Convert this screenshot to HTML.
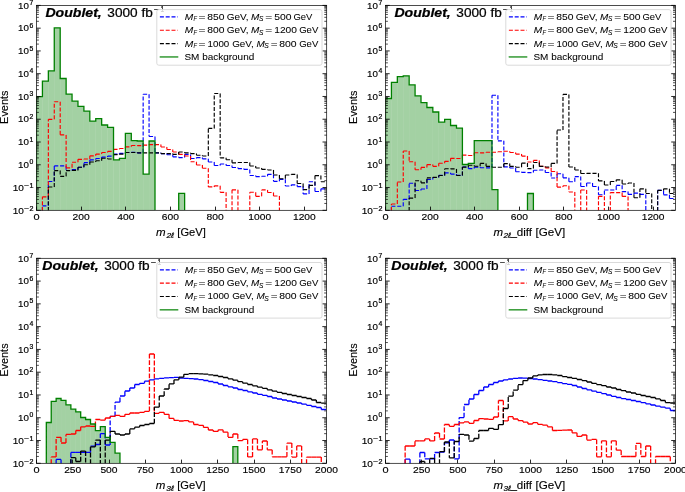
<!DOCTYPE html>
<html><head><meta charset="utf-8">
<style>
html,body{margin:0;padding:0;background:#fff;}
body{width:685px;height:492px;overflow:hidden;}
svg{display:block;}
text{font-family:"Liberation Sans",sans-serif;fill:#000;stroke:#000;stroke-width:0.22px;}
.tk{font-size:9.8px;stroke-width:0.15px;}
.sup{font-size:6.6px;}
.lb{font-size:10.4px;stroke-width:0.12px;}
.it{font-style:italic;}
.lsub2{font-size:7.6px;font-style:italic;}
.ti{font-size:12.1px;}
.bi{font-weight:bold;font-style:italic;}
.sup2{font-size:8.5px;}
.lg{font-size:9.8px;stroke-width:0.06px;}
.lsub{font-size:6.7px;font-style:italic;stroke-width:0.06px;}
svg{will-change:transform;}
</style></head>
<body>
<svg width="685" height="492" viewBox="0 0 685 492">
<rect width="685" height="492" fill="#fff"/>
<g>
<clipPath id="cTL"><rect x="36.5" y="5.4" width="290.2" height="204.9"/></clipPath>
<g clip-path="url(#cTL)">
<rect x="36.5" y="96.6" width="5.92" height="115.7" fill="#008000" fill-opacity="0.36"/>
<rect x="42.42" y="81.1" width="5.92" height="131.2" fill="#008000" fill-opacity="0.36"/>
<rect x="48.35" y="70.9" width="5.92" height="141.4" fill="#008000" fill-opacity="0.36"/>
<rect x="54.27" y="27.8" width="5.92" height="184.5" fill="#008000" fill-opacity="0.36"/>
<rect x="60.2" y="78.5" width="5.92" height="133.8" fill="#008000" fill-opacity="0.36"/>
<rect x="66.12" y="94.1" width="5.92" height="118.2" fill="#008000" fill-opacity="0.36"/>
<rect x="72.05" y="101.2" width="5.92" height="111.1" fill="#008000" fill-opacity="0.36"/>
<rect x="77.97" y="106.3" width="5.92" height="106" fill="#008000" fill-opacity="0.36"/>
<rect x="83.9" y="111.1" width="5.92" height="101.2" fill="#008000" fill-opacity="0.36"/>
<rect x="89.82" y="121.1" width="5.92" height="91.2" fill="#008000" fill-opacity="0.36"/>
<rect x="95.75" y="118.6" width="5.92" height="93.7" fill="#008000" fill-opacity="0.36"/>
<rect x="101.67" y="125" width="5.92" height="87.3" fill="#008000" fill-opacity="0.36"/>
<rect x="107.6" y="127.4" width="5.92" height="84.9" fill="#008000" fill-opacity="0.36"/>
<rect x="113.52" y="159.8" width="5.92" height="52.5" fill="#008000" fill-opacity="0.36"/>
<rect x="119.45" y="158.3" width="5.92" height="54" fill="#008000" fill-opacity="0.36"/>
<rect x="125.38" y="133.4" width="5.92" height="78.9" fill="#008000" fill-opacity="0.36"/>
<rect x="131.3" y="140.6" width="5.92" height="71.7" fill="#008000" fill-opacity="0.36"/>
<rect x="137.22" y="141" width="5.92" height="71.3" fill="#008000" fill-opacity="0.36"/>
<rect x="143.15" y="174.1" width="5.92" height="38.2" fill="#008000" fill-opacity="0.36"/>
<rect x="149.07" y="141" width="5.92" height="71.3" fill="#008000" fill-opacity="0.36"/>
<rect x="178.7" y="193.4" width="5.92" height="18.9" fill="#008000" fill-opacity="0.36"/>
<path d="M42.42 211V205.8M42.42 205.8H48.35M48.35 205.8V181.5M48.35 181.5H54.27M54.27 181.5V165.8M54.27 165.8H60.2M60.2 165.8H66.12M66.12 165.8V170.5M66.12 170.5H72.05M72.05 170.5V169.6M72.05 169.6H77.97M77.97 169.6V167.2M77.97 167.2H83.9M83.9 167.2V162.6M83.9 162.6H89.82M89.82 162.6V159.8M89.82 159.8H95.75M95.75 159.8V158.5M95.75 158.5H101.67M101.67 158.5V157.1M101.67 157.1H107.6M107.6 157.1V156.1M107.6 156.1H113.52M113.52 156.1V154.1M113.52 154.1H119.45M119.45 154.1V153.3M119.45 153.3H125.38M125.38 153.3V152.5M125.38 152.5H131.3M131.3 152.5V152.2M131.3 152.2H137.22M137.22 152.2V152.8M137.22 152.8H143.15M143.15 152.8V94.2M143.15 94.2H149.07M149.07 94.2V136.5M149.07 136.5H155M155 136.5V152.8M155 152.8H160.93M160.93 152.8V153.6M160.93 153.6H166.85M166.85 153.6V154.7M166.85 154.7H172.78M172.78 154.7V156.8M172.78 156.8H178.7M178.7 156.8V157.6M178.7 157.6H184.62M184.62 157.6V154.4M184.62 154.4H190.55M190.55 154.4V158.5M190.55 158.5H196.47M196.47 158.5V157.6M196.47 157.6H202.4M202.4 157.6V158.8M202.4 158.8H208.32M208.32 158.8V162M208.32 162H214.25M214.25 162V165.5M214.25 165.5H220.17M220.17 165.5V164M220.17 164H226.1M226.1 164V165.5M226.1 165.5H232.03M232.03 165.5V167.5M232.03 167.5H237.95M237.95 167.5V168.6M237.95 168.6H243.88M243.88 168.6V169.4M243.88 169.4H249.8M249.8 169.4V175.5M249.8 175.5H255.72M255.72 175.5V176.6M255.72 176.6H261.65M261.65 176.6V176.2M261.65 176.2H267.57M267.57 176.2V174.3M267.57 174.3H273.5M273.5 174.3V181.3M273.5 181.3H279.42M279.42 181.3V179.3M279.42 179.3H285.35M285.35 179.3V186M285.35 186H291.27M291.27 186V184.8M291.27 184.8H297.2M297.2 184.8V186.6M297.2 186.6H303.12M303.12 186.6V193.9M303.12 193.9H309.05M309.05 193.9V181.7M309.05 181.7H314.97M314.97 181.7V191.5M314.97 191.5H320.9M320.9 191.5V188.8M320.9 188.8H326.82" fill="none" stroke="#0000ff" stroke-width="1.15" stroke-dasharray="4 1.8" stroke-linecap="butt"/>
<path d="M42.42 211V196.8M42.42 196.8H48.35M48.35 196.8V119.3M48.35 119.3H54.27M54.27 119.3V101.7M54.27 101.7H60.2M60.2 101.7V134.9M60.2 134.9H66.12M66.12 134.9V167.8M66.12 167.8H72.05M72.05 167.8V162.2M72.05 162.2H77.97M77.97 162.2V159.3M77.97 159.3H83.9M83.9 159.3V159M83.9 159H89.82M89.82 159V155.8M89.82 155.8H95.75M95.75 155.8V154.1M95.75 154.1H101.67M101.67 154.1V152.5M101.67 152.5H107.6M107.6 152.5V151.4M107.6 151.4H113.52M113.52 151.4V149.3M113.52 149.3H119.45M119.45 149.3V148.5M119.45 148.5H125.38M125.38 148.5V146.8M125.38 146.8H131.3M131.3 146.8V145.5M131.3 145.5H137.22M137.22 145.5V145.6M137.22 145.6H143.15M143.15 145.6V145.1M143.15 145.1H149.07M149.07 145.1V144.6M149.07 144.6H155M155 144.6H160.93M160.93 144.6V147M160.93 147H166.85M166.85 147V149.5M166.85 149.5H172.78M172.78 149.5V152M172.78 152H178.7M178.7 152V154.4M178.7 154.4H184.62M184.62 154.4V156M184.62 156H190.55M190.55 156V161.7M190.55 161.7H196.47M196.47 161.7V165M196.47 165H202.4M202.4 165V168.2M202.4 168.2H208.32M208.32 168.2V186.9M208.32 186.9H214.25M214.25 186.9V185.8M214.25 185.8H220.17M220.17 185.8V192.3M220.17 192.3H226.1M226.1 192.3V216.3M232.03 211V189.8M232.03 189.8H237.95M237.95 189.8V216.3M249.8 211V192.2M249.8 192.2H255.72M255.72 192.2V196.3M255.72 196.3H261.65M261.65 196.3V189.9M261.65 189.9H267.57M267.57 189.9V192.5M267.57 192.5H273.5M273.5 192.5V196M273.5 196H279.42M279.42 196V216.3" fill="none" stroke="#ff0000" stroke-width="1.15" stroke-dasharray="4 1.8" stroke-linecap="butt"/>
<path d="M48.35 211V187M48.35 187H54.27M54.27 187V170.6M54.27 170.6H60.2M60.2 170.6V176.3M60.2 176.3H66.12M66.12 176.3V170.6M66.12 170.6H72.05M72.05 170.6V170.4M72.05 170.4H77.97M77.97 170.4V167.2M77.97 167.2H83.9M83.9 167.2V164.7M83.9 164.7H89.82M89.82 164.7V162M89.82 162H95.75M95.75 162V160.7M95.75 160.7H101.67M101.67 160.7V158.2M101.67 158.2H107.6M107.6 158.2V159M107.6 159H113.52M113.52 159V154.6M113.52 154.6H119.45M119.45 154.6V154.1M119.45 154.1H125.38M125.38 154.1V152.5M125.38 152.5H131.3M131.3 152.5H137.22M137.22 152.5V152.8M137.22 152.8H143.15M143.15 152.8H149.07M149.07 152.8H155M155 152.8H160.93M160.93 152.8V153.6M160.93 153.6H166.85M166.85 153.6H172.78M172.78 153.6V154.4M172.78 154.4H178.7M178.7 154.4V152M178.7 152H184.62M184.62 152V152.8M184.62 152.8H190.55M190.55 152.8V153.6M190.55 153.6H196.47M196.47 153.6V155.2M196.47 155.2H202.4M202.4 155.2V156M202.4 156H208.32M208.32 156V128.4M208.32 128.4H214.25M214.25 128.4V93.5M214.25 93.5H220.17M220.17 93.5V157.8M220.17 157.8H226.1M226.1 157.8V159.7M226.1 159.7H232.03M232.03 159.7V162.8M232.03 162.8H237.95M237.95 162.8V162.5M237.95 162.5H243.88M243.88 162.5H249.8M249.8 162.5V166M249.8 166H255.72M255.72 166V168M255.72 168H261.65M261.65 168V169.4M261.65 169.4H267.57M267.57 169.4V170M267.57 170H273.5M273.5 170V175M273.5 175H279.42M279.42 175V178.7M279.42 178.7H285.35M285.35 178.7V175M285.35 175H291.27M291.27 175V174.4M291.27 174.4H297.2M297.2 174.4V183.5M297.2 183.5H303.12M303.12 183.5V189.6M303.12 189.6H309.05M309.05 189.6V185.4M309.05 185.4H314.97M314.97 185.4V175.6M314.97 175.6H320.9M320.9 175.6V181.7M320.9 181.7H326.82" fill="none" stroke="#000000" stroke-width="1.15" stroke-dasharray="4 1.8" stroke-linecap="butt"/>
<path d="M36.5 210.3L36.5 96.6L42.42 96.6L42.42 81.1L48.35 81.1L48.35 70.9L54.27 70.9L54.27 27.8L60.2 27.8L60.2 78.5L66.12 78.5L66.12 94.1L72.05 94.1L72.05 101.2L77.97 101.2L77.97 106.3L83.9 106.3L83.9 111.1L89.82 111.1L89.82 121.1L95.75 121.1L95.75 118.6L101.67 118.6L101.67 125L107.6 125L107.6 127.4L113.52 127.4L113.52 159.8L119.45 159.8L119.45 158.3L125.38 158.3L125.38 133.4L131.3 133.4L131.3 140.6L137.22 140.6L137.22 141L143.15 141L143.15 174.1L149.07 174.1L149.07 141L155 141L155 210.3M178.7 210.3L178.7 193.4L184.62 193.4L184.62 210.3" fill="none" stroke="#008000" stroke-width="1.3" stroke-linejoin="miter"/>
</g>
<path d="M36.5 21.31h2.4M326.7 21.31h-2.4M36.5 17.3h2.4M326.7 17.3h-2.4M36.5 14.46h2.4M326.7 14.46h-2.4M36.5 12.25h2.4M326.7 12.25h-2.4M36.5 10.45h2.4M326.7 10.45h-2.4M36.5 8.93h2.4M326.7 8.93h-2.4M36.5 7.61h2.4M326.7 7.61h-2.4M36.5 6.44h2.4M326.7 6.44h-2.4M36.5 44.08h2.4M326.7 44.08h-2.4M36.5 40.07h2.4M326.7 40.07h-2.4M36.5 37.23h2.4M326.7 37.23h-2.4M36.5 35.02h2.4M326.7 35.02h-2.4M36.5 33.22h2.4M326.7 33.22h-2.4M36.5 31.69h2.4M326.7 31.69h-2.4M36.5 30.37h2.4M326.7 30.37h-2.4M36.5 29.21h2.4M326.7 29.21h-2.4M36.5 66.85h2.4M326.7 66.85h-2.4M36.5 62.84h2.4M326.7 62.84h-2.4M36.5 59.99h2.4M326.7 59.99h-2.4M36.5 57.79h2.4M326.7 57.79h-2.4M36.5 55.98h2.4M326.7 55.98h-2.4M36.5 54.46h2.4M326.7 54.46h-2.4M36.5 53.14h2.4M326.7 53.14h-2.4M36.5 51.98h2.4M326.7 51.98h-2.4M36.5 89.61h2.4M326.7 89.61h-2.4M36.5 85.6h2.4M326.7 85.6h-2.4M36.5 82.76h2.4M326.7 82.76h-2.4M36.5 80.55h2.4M326.7 80.55h-2.4M36.5 78.75h2.4M326.7 78.75h-2.4M36.5 77.23h2.4M326.7 77.23h-2.4M36.5 75.91h2.4M326.7 75.91h-2.4M36.5 74.74h2.4M326.7 74.74h-2.4M36.5 112.38h2.4M326.7 112.38h-2.4M36.5 108.37h2.4M326.7 108.37h-2.4M36.5 105.53h2.4M326.7 105.53h-2.4M36.5 103.32h2.4M326.7 103.32h-2.4M36.5 101.52h2.4M326.7 101.52h-2.4M36.5 99.99h2.4M326.7 99.99h-2.4M36.5 98.67h2.4M326.7 98.67h-2.4M36.5 97.51h2.4M326.7 97.51h-2.4M36.5 135.15h2.4M326.7 135.15h-2.4M36.5 131.14h2.4M326.7 131.14h-2.4M36.5 128.29h2.4M326.7 128.29h-2.4M36.5 126.09h2.4M326.7 126.09h-2.4M36.5 124.28h2.4M326.7 124.28h-2.4M36.5 122.76h2.4M326.7 122.76h-2.4M36.5 121.44h2.4M326.7 121.44h-2.4M36.5 120.28h2.4M326.7 120.28h-2.4M36.5 157.91h2.4M326.7 157.91h-2.4M36.5 153.9h2.4M326.7 153.9h-2.4M36.5 151.06h2.4M326.7 151.06h-2.4M36.5 148.85h2.4M326.7 148.85h-2.4M36.5 147.05h2.4M326.7 147.05h-2.4M36.5 145.53h2.4M326.7 145.53h-2.4M36.5 144.21h2.4M326.7 144.21h-2.4M36.5 143.04h2.4M326.7 143.04h-2.4M36.5 180.68h2.4M326.7 180.68h-2.4M36.5 176.67h2.4M326.7 176.67h-2.4M36.5 173.83h2.4M326.7 173.83h-2.4M36.5 171.62h2.4M326.7 171.62h-2.4M36.5 169.82h2.4M326.7 169.82h-2.4M36.5 168.29h2.4M326.7 168.29h-2.4M36.5 166.97h2.4M326.7 166.97h-2.4M36.5 165.81h2.4M326.7 165.81h-2.4M36.5 203.45h2.4M326.7 203.45h-2.4M36.5 199.44h2.4M326.7 199.44h-2.4M36.5 196.59h2.4M326.7 196.59h-2.4M36.5 194.39h2.4M326.7 194.39h-2.4M36.5 192.58h2.4M326.7 192.58h-2.4M36.5 191.06h2.4M326.7 191.06h-2.4M36.5 189.74h2.4M326.7 189.74h-2.4M36.5 188.58h2.4M326.7 188.58h-2.4" stroke="#000" stroke-width="0.7" fill="none"/>
<path d="M36.5 5.4h4.2M326.7 5.4h-4.2M36.5 28.17h4.2M326.7 28.17h-4.2M36.5 50.93h4.2M326.7 50.93h-4.2M36.5 73.7h4.2M326.7 73.7h-4.2M36.5 96.47h4.2M326.7 96.47h-4.2M36.5 119.23h4.2M326.7 119.23h-4.2M36.5 142h4.2M326.7 142h-4.2M36.5 164.77h4.2M326.7 164.77h-4.2M36.5 187.53h4.2M326.7 187.53h-4.2M36.5 210.3h4.2M326.7 210.3h-4.2M36.5 210.3v-3.7M81.5 210.3v-3.7M125.5 210.3v-3.7M170.5 210.3v-3.7M215.5 210.3v-3.7M259.5 210.3v-3.7M304.5 210.3v-3.7" stroke="#000" stroke-width="0.85" fill="none"/>
<rect x="36.5" y="5.4" width="290.2" height="204.9" fill="none" stroke="#000" stroke-width="0.7"/>
<text class="tk" x="18.1" y="8.6" textLength="10.9" lengthAdjust="spacingAndGlyphs">10</text>
<text class="sup" x="29.5" y="5" textLength="3.8" lengthAdjust="spacingAndGlyphs">7</text>
<text class="tk" x="18.1" y="31.37" textLength="10.9" lengthAdjust="spacingAndGlyphs">10</text>
<text class="sup" x="29.5" y="27.77" textLength="3.8" lengthAdjust="spacingAndGlyphs">6</text>
<text class="tk" x="18.1" y="54.13" textLength="10.9" lengthAdjust="spacingAndGlyphs">10</text>
<text class="sup" x="29.5" y="50.53" textLength="3.8" lengthAdjust="spacingAndGlyphs">5</text>
<text class="tk" x="18.1" y="76.9" textLength="10.9" lengthAdjust="spacingAndGlyphs">10</text>
<text class="sup" x="29.5" y="73.3" textLength="3.8" lengthAdjust="spacingAndGlyphs">4</text>
<text class="tk" x="18.1" y="99.67" textLength="10.9" lengthAdjust="spacingAndGlyphs">10</text>
<text class="sup" x="29.5" y="96.07" textLength="3.8" lengthAdjust="spacingAndGlyphs">3</text>
<text class="tk" x="18.1" y="122.43" textLength="10.9" lengthAdjust="spacingAndGlyphs">10</text>
<text class="sup" x="29.5" y="118.83" textLength="3.8" lengthAdjust="spacingAndGlyphs">2</text>
<text class="tk" x="18.1" y="145.2" textLength="10.9" lengthAdjust="spacingAndGlyphs">10</text>
<text class="sup" x="29.5" y="141.6" textLength="3.8" lengthAdjust="spacingAndGlyphs">1</text>
<text class="tk" x="18.1" y="167.97" textLength="10.9" lengthAdjust="spacingAndGlyphs">10</text>
<text class="sup" x="29.5" y="164.37" textLength="3.8" lengthAdjust="spacingAndGlyphs">0</text>
<text class="tk" x="12.7" y="190.73" textLength="11.2" lengthAdjust="spacingAndGlyphs">10</text>
<text class="sup" x="24.3" y="188.03" textLength="5.1" lengthAdjust="spacingAndGlyphs">−</text>
<text class="sup" x="29.4" y="187.93" textLength="4" lengthAdjust="spacingAndGlyphs">1</text>
<text class="tk" x="12.7" y="213.5" textLength="11.2" lengthAdjust="spacingAndGlyphs">10</text>
<text class="sup" x="24.3" y="210.8" textLength="5.1" lengthAdjust="spacingAndGlyphs">−</text>
<text class="sup" x="29.4" y="210.7" textLength="4" lengthAdjust="spacingAndGlyphs">2</text>
<text class="tk" x="33.45" y="220" textLength="6.1" lengthAdjust="spacingAndGlyphs">0</text>
<text class="tk" x="72.55" y="220" textLength="17.2" lengthAdjust="spacingAndGlyphs">200</text>
<text class="tk" x="117.19" y="220" textLength="17.2" lengthAdjust="spacingAndGlyphs">400</text>
<text class="tk" x="161.84" y="220" textLength="17.2" lengthAdjust="spacingAndGlyphs">600</text>
<text class="tk" x="206.48" y="220" textLength="17.2" lengthAdjust="spacingAndGlyphs">800</text>
<text class="tk" x="248.33" y="220" textLength="22.8" lengthAdjust="spacingAndGlyphs">1000</text>
<text class="tk" x="292.98" y="220" textLength="22.8" lengthAdjust="spacingAndGlyphs">1200</text>
<text class="lb it" x="155.9" y="236.3" textLength="9.6" lengthAdjust="spacingAndGlyphs">m</text>
<text class="lsub2" x="166.4" y="237.8" textLength="7.4" lengthAdjust="spacingAndGlyphs">2ℓ</text>
<text class="lb" x="177.3" y="236.3" textLength="28.5" lengthAdjust="spacingAndGlyphs">[GeV]</text>
<text class="lb" transform="translate(7.7 107.2) rotate(-90)" text-anchor="middle" textLength="33.4" lengthAdjust="spacingAndGlyphs">Events</text>
<text class="ti bi" x="45.4" y="16.5" textLength="56.4" lengthAdjust="spacingAndGlyphs">Doublet,</text>
<text class="ti" x="107.3" y="16.5" textLength="45.5" lengthAdjust="spacingAndGlyphs">3000 fb</text>
<text class="sup2" x="154.1" y="11.6" textLength="5.3" lengthAdjust="spacingAndGlyphs">−</text>
<text class="sup2" x="160.6" y="11.6" textLength="3.6" lengthAdjust="spacingAndGlyphs">1</text>
<rect x="156.8" y="9.6" width="165.2" height="55.6" rx="2" ry="2" fill="#fff" fill-opacity="0.8" stroke="#d6d6d6" stroke-width="0.9"/>
<path d="M159.9 16.9h17.9" stroke="#0000ff" stroke-width="1.15" stroke-dasharray="4 1.8"/>
<text class="lg it" x="184.7" y="19.8" textLength="8.5" lengthAdjust="spacingAndGlyphs">M</text>
<text class="lsub" x="193.4" y="21.3" textLength="3.5" lengthAdjust="spacingAndGlyphs">F</text>
<text class="lg" x="198.45" y="19.8" textLength="7" lengthAdjust="spacingAndGlyphs">=</text>
<text class="lg" x="207.25" y="19.8" textLength="17.2" lengthAdjust="spacingAndGlyphs">850</text>
<text class="lg" x="226.65" y="19.8" textLength="21.9" lengthAdjust="spacingAndGlyphs">GeV,</text>
<text class="lg it" x="250.9" y="19.8" textLength="8.3" lengthAdjust="spacingAndGlyphs">M</text>
<text class="lsub" x="259.1" y="21.3" textLength="4.4" lengthAdjust="spacingAndGlyphs">S</text>
<text class="lg" x="265.35" y="19.8" textLength="7" lengthAdjust="spacingAndGlyphs">=</text>
<text class="lg" x="274.25" y="19.8" textLength="17.3" lengthAdjust="spacingAndGlyphs">500</text>
<text class="lg" x="293.45" y="19.8" textLength="18.9" lengthAdjust="spacingAndGlyphs">GeV</text>
<path d="M159.9 30.25h17.9" stroke="#ff0000" stroke-width="1.15" stroke-dasharray="4 1.8"/>
<text class="lg it" x="184.7" y="33.15" textLength="8.5" lengthAdjust="spacingAndGlyphs">M</text>
<text class="lsub" x="193.4" y="34.65" textLength="3.5" lengthAdjust="spacingAndGlyphs">F</text>
<text class="lg" x="198.45" y="33.15" textLength="7" lengthAdjust="spacingAndGlyphs">=</text>
<text class="lg" x="207.25" y="33.15" textLength="17.2" lengthAdjust="spacingAndGlyphs">800</text>
<text class="lg" x="226.65" y="33.15" textLength="21.9" lengthAdjust="spacingAndGlyphs">GeV,</text>
<text class="lg it" x="250.9" y="33.15" textLength="8.3" lengthAdjust="spacingAndGlyphs">M</text>
<text class="lsub" x="259.1" y="34.65" textLength="4.4" lengthAdjust="spacingAndGlyphs">S</text>
<text class="lg" x="265.35" y="33.15" textLength="7" lengthAdjust="spacingAndGlyphs">=</text>
<text class="lg" x="274.25" y="33.15" textLength="22.7" lengthAdjust="spacingAndGlyphs">1200</text>
<text class="lg" x="299.15" y="33.15" textLength="19.2" lengthAdjust="spacingAndGlyphs">GeV</text>
<path d="M159.9 43.6h17.9" stroke="#000000" stroke-width="1.15" stroke-dasharray="4 1.8"/>
<text class="lg it" x="184.7" y="46.5" textLength="8.5" lengthAdjust="spacingAndGlyphs">M</text>
<text class="lsub" x="193.4" y="48" textLength="3.5" lengthAdjust="spacingAndGlyphs">F</text>
<text class="lg" x="198.45" y="46.5" textLength="7" lengthAdjust="spacingAndGlyphs">=</text>
<text class="lg" x="207.55" y="46.5" textLength="21.7" lengthAdjust="spacingAndGlyphs">1000</text>
<text class="lg" x="232.15" y="46.5" textLength="21.6" lengthAdjust="spacingAndGlyphs">GeV,</text>
<text class="lg it" x="256.4" y="46.5" textLength="8.3" lengthAdjust="spacingAndGlyphs">M</text>
<text class="lsub" x="264.3" y="48" textLength="4.5" lengthAdjust="spacingAndGlyphs">S</text>
<text class="lg" x="270.85" y="46.5" textLength="6.8" lengthAdjust="spacingAndGlyphs">=</text>
<text class="lg" x="279.25" y="46.5" textLength="17.4" lengthAdjust="spacingAndGlyphs">800</text>
<text class="lg" x="299.15" y="46.5" textLength="19.2" lengthAdjust="spacingAndGlyphs">GeV</text>
<path d="M159.7 56.95h18.6" stroke="#008000" stroke-width="1.2"/>
<text class="lg" x="184.45" y="59.85" textLength="69.8" lengthAdjust="spacingAndGlyphs">SM background</text>
</g>
<g>
<clipPath id="cTR"><rect x="385.5" y="5.4" width="289.9" height="204.9"/></clipPath>
<g clip-path="url(#cTR)">
<rect x="385.5" y="98.5" width="5.92" height="113.8" fill="#008000" fill-opacity="0.36"/>
<rect x="391.42" y="82.3" width="5.92" height="130" fill="#008000" fill-opacity="0.36"/>
<rect x="397.33" y="76.7" width="5.92" height="135.6" fill="#008000" fill-opacity="0.36"/>
<rect x="403.25" y="75.8" width="5.92" height="136.5" fill="#008000" fill-opacity="0.36"/>
<rect x="409.16" y="84.9" width="5.92" height="127.4" fill="#008000" fill-opacity="0.36"/>
<rect x="415.08" y="95.8" width="5.92" height="116.5" fill="#008000" fill-opacity="0.36"/>
<rect x="421" y="102.6" width="5.92" height="109.7" fill="#008000" fill-opacity="0.36"/>
<rect x="426.91" y="107.5" width="5.92" height="104.8" fill="#008000" fill-opacity="0.36"/>
<rect x="432.83" y="112" width="5.92" height="100.3" fill="#008000" fill-opacity="0.36"/>
<rect x="438.74" y="122.1" width="5.92" height="90.2" fill="#008000" fill-opacity="0.36"/>
<rect x="444.66" y="119.3" width="5.92" height="93" fill="#008000" fill-opacity="0.36"/>
<rect x="450.58" y="125.5" width="5.92" height="86.8" fill="#008000" fill-opacity="0.36"/>
<rect x="456.49" y="128.1" width="5.92" height="84.2" fill="#008000" fill-opacity="0.36"/>
<rect x="462.41" y="164.5" width="5.92" height="47.8" fill="#008000" fill-opacity="0.36"/>
<rect x="468.32" y="163.4" width="5.92" height="48.9" fill="#008000" fill-opacity="0.36"/>
<rect x="474.24" y="140.7" width="5.92" height="71.6" fill="#008000" fill-opacity="0.36"/>
<rect x="480.16" y="140.7" width="5.92" height="71.6" fill="#008000" fill-opacity="0.36"/>
<rect x="486.07" y="140.7" width="5.92" height="71.6" fill="#008000" fill-opacity="0.36"/>
<rect x="491.99" y="189.6" width="5.92" height="22.7" fill="#008000" fill-opacity="0.36"/>
<rect x="527.48" y="193.5" width="5.92" height="18.8" fill="#008000" fill-opacity="0.36"/>
<path d="M391.42 211V206.2M391.42 206.2H397.33M397.33 206.2H403.25M403.25 206.2V199.3M403.25 199.3H409.16M409.16 199.3V183.2M409.16 183.2H415.08M415.08 183.2V190.5M415.08 190.5H421M421 190.5V189M421 189H426.91M426.91 189V179.5M426.91 179.5H432.83M432.83 179.5V177.5M432.83 177.5H438.74M438.74 177.5V175.4M438.74 175.4H444.66M444.66 175.4V172.8M444.66 172.8H450.58M450.58 172.8V174.1M450.58 174.1H456.49M456.49 174.1V175.4M456.49 175.4H462.41M462.41 175.4V167M462.41 167H468.32M468.32 167V168.6M468.32 168.6H474.24M474.24 168.6V167.1M474.24 167.1H480.16M480.16 167.1V167.7M480.16 167.7H486.07M486.07 167.7V167.8M486.07 167.8H491.99M491.99 167.8V95.2M491.99 95.2H497.9M497.9 95.2V140.8M497.9 140.8H503.82M503.82 140.8V166.8M503.82 166.8H509.74M509.74 166.8V168M509.74 168H515.65M515.65 168V171.7M515.65 171.7H521.57M521.57 171.7V172.4M521.57 172.4H527.48M527.48 172.4V172.6M527.48 172.6H533.4M533.4 172.6V170.2M533.4 170.2H539.32M539.32 170.2V170M539.32 170H545.23M545.23 170V172.5M545.23 172.5H551.15M551.15 172.5V178M551.15 178H557.06M557.06 178V173.7M557.06 173.7H562.98M562.98 173.7V177.8M562.98 177.8H568.9M568.9 177.8V181.7M568.9 181.7H574.81M574.81 181.7V176.6M574.81 176.6H580.73M580.73 176.6V186.5M580.73 186.5H586.64M586.64 186.5V183M586.64 183H592.56M592.56 183V186.5M592.56 186.5H598.48M598.48 186.5V194.7M598.48 194.7H604.39M604.39 194.7V190M604.39 190H610.31M610.31 190H616.22M616.22 190V185.3M616.22 185.3H622.14M622.14 185.3V191.6M622.14 191.6H628.06M628.06 191.6V194.4M628.06 194.4H633.97M633.97 194.4V193.1M633.97 193.1H639.89M639.89 193.1V194.4M639.89 194.4H645.8M645.8 194.4V216.3M657.64 211V190.4M657.64 190.4H663.55M663.55 190.4V194.8M663.55 194.8H669.47M669.47 194.8V198.5M669.47 198.5H675.38" fill="none" stroke="#0000ff" stroke-width="1.15" stroke-dasharray="4 1.8" stroke-linecap="butt"/>
<path d="M391.42 211V204M391.42 204H397.33M397.33 204V182M397.33 182H403.25M403.25 182V151M403.25 151H409.16M409.16 151V161.7M409.16 161.7H415.08M415.08 161.7V169.7M415.08 169.7H421M421 169.7V167.4M421 167.4H426.91M426.91 167.4V164.6M426.91 164.6H432.83M432.83 164.6V166.3M432.83 166.3H438.74M438.74 166.3V163.2M438.74 163.2H444.66M444.66 163.2V161.3M444.66 161.3H450.58M450.58 161.3V158.3M450.58 158.3H456.49M456.49 158.3V158.5M456.49 158.5H462.41M462.41 158.5V155.1M462.41 155.1H468.32M468.32 155.1V155.5M468.32 155.5H474.24M474.24 155.5V152.7M474.24 152.7H480.16M480.16 152.7V152.8M480.16 152.8H486.07M486.07 152.8V152.2M486.07 152.2H491.99M491.99 152.2H497.9M497.9 152.2V151.7M497.9 151.7H503.82M503.82 151.7V151.2M503.82 151.2H509.74M509.74 151.2V152.5M509.74 152.5H515.65M515.65 152.5V154.1M515.65 154.1H521.57M521.57 154.1V156.1M521.57 156.1H527.48M527.48 156.1V162M527.48 162H533.4M533.4 162V160.4M533.4 160.4H539.32M539.32 160.4V166.4M539.32 166.4H545.23M545.23 166.4V167.8M545.23 167.8H551.15M551.15 167.8V171.5M551.15 171.5H557.06M557.06 171.5V187.1M557.06 187.1H562.98M562.98 187.1V185.7M562.98 185.7H568.9M568.9 185.7V192M568.9 192H574.81M574.81 192V216.3M580.73 211V190M580.73 190H586.64M586.64 190V216.3M598.48 211V196.3M598.48 196.3H604.39M604.39 196.3V216.3M610.31 211V192.6M610.31 192.6H616.22M616.22 192.6H622.14M622.14 192.6V196.4M622.14 196.4H628.06M628.06 196.4V216.3" fill="none" stroke="#ff0000" stroke-width="1.15" stroke-dasharray="4 1.8" stroke-linecap="butt"/>
<path d="M409.16 211V198.1M409.16 198.1H415.08M415.08 198.1V180.7M415.08 180.7H421M421 180.7V182.8M421 182.8H426.91M426.91 182.8V177.8M426.91 177.8H432.83M432.83 177.8V177.3M432.83 177.3H438.74M438.74 177.3V175.5M438.74 175.5H444.66M444.66 175.5V168.7M444.66 168.7H450.58M450.58 168.7V168.9M450.58 168.9H456.49M456.49 168.9V175.5M456.49 175.5H462.41M462.41 175.5V167.1M462.41 167.1H468.32M468.32 167.1V165.2M468.32 165.2H474.24M474.24 165.2V166.2M474.24 166.2H480.16M480.16 166.2V163.4M480.16 163.4H486.07M486.07 163.4V166.3M486.07 166.3H491.99M491.99 166.3V167.2M491.99 167.2H497.9M497.9 167.2H503.82M503.82 167.2V163.6M503.82 163.6H509.74M509.74 163.6V166.3M509.74 166.3H515.65M515.65 166.3V167.2M515.65 167.2H521.57M521.57 167.2V163.1M521.57 163.1H527.48M527.48 163.1V168.6M527.48 168.6H533.4M533.4 168.6V162.5M533.4 162.5H539.32M539.32 162.5V166.4M539.32 166.4H545.23M545.23 166.4V167M545.23 167H551.15M551.15 167V163.4M551.15 163.4H557.06M557.06 163.4V130M557.06 130H562.98M562.98 130V94.4M562.98 94.4H568.9M568.9 94.4V167M568.9 167H574.81M574.81 167V170M574.81 170H580.73M580.73 170V173.5M580.73 173.5H586.64M586.64 173.5V173.3M586.64 173.3H592.56M592.56 173.3H598.48M598.48 173.3V180.9M598.48 180.9H604.39M604.39 180.9V185M604.39 185H610.31M610.31 185V181.5M610.31 181.5H616.22M616.22 181.5V179.8M616.22 179.8H622.14M622.14 179.8V184M622.14 184H628.06M628.06 184V183M628.06 183H633.97M633.97 183V197.7M633.97 197.7H639.89M639.89 197.7V188.8M639.89 188.8H645.8M645.8 188.8V193.5M645.8 193.5H651.72M651.72 193.5V216.3M657.64 211V190.4M657.64 190.4H663.55M663.55 190.4V188.8M663.55 188.8H669.47M669.47 188.8V193.5M669.47 193.5H675.38" fill="none" stroke="#000000" stroke-width="1.15" stroke-dasharray="4 1.8" stroke-linecap="butt"/>
<path d="M385.5 210.3L385.5 98.5L391.42 98.5L391.42 82.3L397.33 82.3L397.33 76.7L403.25 76.7L403.25 75.8L409.16 75.8L409.16 84.9L415.08 84.9L415.08 95.8L421 95.8L421 102.6L426.91 102.6L426.91 107.5L432.83 107.5L432.83 112L438.74 112L438.74 122.1L444.66 122.1L444.66 119.3L450.58 119.3L450.58 125.5L456.49 125.5L456.49 128.1L462.41 128.1L462.41 164.5L468.32 164.5L468.32 163.4L474.24 163.4L474.24 140.7L480.16 140.7L480.16 140.7L486.07 140.7L486.07 140.7L491.99 140.7L491.99 189.6L497.9 189.6L497.9 210.3M527.48 210.3L527.48 193.5L533.4 193.5L533.4 210.3" fill="none" stroke="#008000" stroke-width="1.3" stroke-linejoin="miter"/>
</g>
<path d="M385.5 21.31h2.4M675.4 21.31h-2.4M385.5 17.3h2.4M675.4 17.3h-2.4M385.5 14.46h2.4M675.4 14.46h-2.4M385.5 12.25h2.4M675.4 12.25h-2.4M385.5 10.45h2.4M675.4 10.45h-2.4M385.5 8.93h2.4M675.4 8.93h-2.4M385.5 7.61h2.4M675.4 7.61h-2.4M385.5 6.44h2.4M675.4 6.44h-2.4M385.5 44.08h2.4M675.4 44.08h-2.4M385.5 40.07h2.4M675.4 40.07h-2.4M385.5 37.23h2.4M675.4 37.23h-2.4M385.5 35.02h2.4M675.4 35.02h-2.4M385.5 33.22h2.4M675.4 33.22h-2.4M385.5 31.69h2.4M675.4 31.69h-2.4M385.5 30.37h2.4M675.4 30.37h-2.4M385.5 29.21h2.4M675.4 29.21h-2.4M385.5 66.85h2.4M675.4 66.85h-2.4M385.5 62.84h2.4M675.4 62.84h-2.4M385.5 59.99h2.4M675.4 59.99h-2.4M385.5 57.79h2.4M675.4 57.79h-2.4M385.5 55.98h2.4M675.4 55.98h-2.4M385.5 54.46h2.4M675.4 54.46h-2.4M385.5 53.14h2.4M675.4 53.14h-2.4M385.5 51.98h2.4M675.4 51.98h-2.4M385.5 89.61h2.4M675.4 89.61h-2.4M385.5 85.6h2.4M675.4 85.6h-2.4M385.5 82.76h2.4M675.4 82.76h-2.4M385.5 80.55h2.4M675.4 80.55h-2.4M385.5 78.75h2.4M675.4 78.75h-2.4M385.5 77.23h2.4M675.4 77.23h-2.4M385.5 75.91h2.4M675.4 75.91h-2.4M385.5 74.74h2.4M675.4 74.74h-2.4M385.5 112.38h2.4M675.4 112.38h-2.4M385.5 108.37h2.4M675.4 108.37h-2.4M385.5 105.53h2.4M675.4 105.53h-2.4M385.5 103.32h2.4M675.4 103.32h-2.4M385.5 101.52h2.4M675.4 101.52h-2.4M385.5 99.99h2.4M675.4 99.99h-2.4M385.5 98.67h2.4M675.4 98.67h-2.4M385.5 97.51h2.4M675.4 97.51h-2.4M385.5 135.15h2.4M675.4 135.15h-2.4M385.5 131.14h2.4M675.4 131.14h-2.4M385.5 128.29h2.4M675.4 128.29h-2.4M385.5 126.09h2.4M675.4 126.09h-2.4M385.5 124.28h2.4M675.4 124.28h-2.4M385.5 122.76h2.4M675.4 122.76h-2.4M385.5 121.44h2.4M675.4 121.44h-2.4M385.5 120.28h2.4M675.4 120.28h-2.4M385.5 157.91h2.4M675.4 157.91h-2.4M385.5 153.9h2.4M675.4 153.9h-2.4M385.5 151.06h2.4M675.4 151.06h-2.4M385.5 148.85h2.4M675.4 148.85h-2.4M385.5 147.05h2.4M675.4 147.05h-2.4M385.5 145.53h2.4M675.4 145.53h-2.4M385.5 144.21h2.4M675.4 144.21h-2.4M385.5 143.04h2.4M675.4 143.04h-2.4M385.5 180.68h2.4M675.4 180.68h-2.4M385.5 176.67h2.4M675.4 176.67h-2.4M385.5 173.83h2.4M675.4 173.83h-2.4M385.5 171.62h2.4M675.4 171.62h-2.4M385.5 169.82h2.4M675.4 169.82h-2.4M385.5 168.29h2.4M675.4 168.29h-2.4M385.5 166.97h2.4M675.4 166.97h-2.4M385.5 165.81h2.4M675.4 165.81h-2.4M385.5 203.45h2.4M675.4 203.45h-2.4M385.5 199.44h2.4M675.4 199.44h-2.4M385.5 196.59h2.4M675.4 196.59h-2.4M385.5 194.39h2.4M675.4 194.39h-2.4M385.5 192.58h2.4M675.4 192.58h-2.4M385.5 191.06h2.4M675.4 191.06h-2.4M385.5 189.74h2.4M675.4 189.74h-2.4M385.5 188.58h2.4M675.4 188.58h-2.4" stroke="#000" stroke-width="0.7" fill="none"/>
<path d="M385.5 5.4h4.2M675.4 5.4h-4.2M385.5 28.17h4.2M675.4 28.17h-4.2M385.5 50.93h4.2M675.4 50.93h-4.2M385.5 73.7h4.2M675.4 73.7h-4.2M385.5 96.47h4.2M675.4 96.47h-4.2M385.5 119.23h4.2M675.4 119.23h-4.2M385.5 142h4.2M675.4 142h-4.2M385.5 164.77h4.2M675.4 164.77h-4.2M385.5 187.53h4.2M675.4 187.53h-4.2M385.5 210.3h4.2M675.4 210.3h-4.2M385.5 210.3v-3.7M430.5 210.3v-3.7M474.5 210.3v-3.7M519.5 210.3v-3.7M563.5 210.3v-3.7M608.5 210.3v-3.7M653.5 210.3v-3.7" stroke="#000" stroke-width="0.85" fill="none"/>
<rect x="385.5" y="5.4" width="289.9" height="204.9" fill="none" stroke="#000" stroke-width="0.7"/>
<text class="tk" x="367.1" y="8.6" textLength="10.9" lengthAdjust="spacingAndGlyphs">10</text>
<text class="sup" x="378.5" y="5" textLength="3.8" lengthAdjust="spacingAndGlyphs">7</text>
<text class="tk" x="367.1" y="31.37" textLength="10.9" lengthAdjust="spacingAndGlyphs">10</text>
<text class="sup" x="378.5" y="27.77" textLength="3.8" lengthAdjust="spacingAndGlyphs">6</text>
<text class="tk" x="367.1" y="54.13" textLength="10.9" lengthAdjust="spacingAndGlyphs">10</text>
<text class="sup" x="378.5" y="50.53" textLength="3.8" lengthAdjust="spacingAndGlyphs">5</text>
<text class="tk" x="367.1" y="76.9" textLength="10.9" lengthAdjust="spacingAndGlyphs">10</text>
<text class="sup" x="378.5" y="73.3" textLength="3.8" lengthAdjust="spacingAndGlyphs">4</text>
<text class="tk" x="367.1" y="99.67" textLength="10.9" lengthAdjust="spacingAndGlyphs">10</text>
<text class="sup" x="378.5" y="96.07" textLength="3.8" lengthAdjust="spacingAndGlyphs">3</text>
<text class="tk" x="367.1" y="122.43" textLength="10.9" lengthAdjust="spacingAndGlyphs">10</text>
<text class="sup" x="378.5" y="118.83" textLength="3.8" lengthAdjust="spacingAndGlyphs">2</text>
<text class="tk" x="367.1" y="145.2" textLength="10.9" lengthAdjust="spacingAndGlyphs">10</text>
<text class="sup" x="378.5" y="141.6" textLength="3.8" lengthAdjust="spacingAndGlyphs">1</text>
<text class="tk" x="367.1" y="167.97" textLength="10.9" lengthAdjust="spacingAndGlyphs">10</text>
<text class="sup" x="378.5" y="164.37" textLength="3.8" lengthAdjust="spacingAndGlyphs">0</text>
<text class="tk" x="361.7" y="190.73" textLength="11.2" lengthAdjust="spacingAndGlyphs">10</text>
<text class="sup" x="373.3" y="188.03" textLength="5.1" lengthAdjust="spacingAndGlyphs">−</text>
<text class="sup" x="378.4" y="187.93" textLength="4" lengthAdjust="spacingAndGlyphs">1</text>
<text class="tk" x="361.7" y="213.5" textLength="11.2" lengthAdjust="spacingAndGlyphs">10</text>
<text class="sup" x="373.3" y="210.8" textLength="5.1" lengthAdjust="spacingAndGlyphs">−</text>
<text class="sup" x="378.4" y="210.7" textLength="4" lengthAdjust="spacingAndGlyphs">2</text>
<text class="tk" x="382.45" y="220" textLength="6.1" lengthAdjust="spacingAndGlyphs">0</text>
<text class="tk" x="421.5" y="220" textLength="17.2" lengthAdjust="spacingAndGlyphs">200</text>
<text class="tk" x="466.1" y="220" textLength="17.2" lengthAdjust="spacingAndGlyphs">400</text>
<text class="tk" x="510.7" y="220" textLength="17.2" lengthAdjust="spacingAndGlyphs">600</text>
<text class="tk" x="555.3" y="220" textLength="17.2" lengthAdjust="spacingAndGlyphs">800</text>
<text class="tk" x="597.1" y="220" textLength="22.8" lengthAdjust="spacingAndGlyphs">1000</text>
<text class="tk" x="641.7" y="220" textLength="22.8" lengthAdjust="spacingAndGlyphs">1200</text>
<text class="lb it" x="493.45" y="236.3" textLength="9.55" lengthAdjust="spacingAndGlyphs">m</text>
<text class="lsub2" x="503.5" y="237.8" textLength="7.2" lengthAdjust="spacingAndGlyphs">2ℓ</text>
<text class="lb" x="510.4" y="236.3" textLength="21.7" lengthAdjust="spacingAndGlyphs">_diff</text>
<text class="lb" x="535.5" y="236.3" textLength="29.8" lengthAdjust="spacingAndGlyphs">[GeV]</text>
<text class="lb" transform="translate(356.7 107.2) rotate(-90)" text-anchor="middle" textLength="33.4" lengthAdjust="spacingAndGlyphs">Events</text>
<text class="ti bi" x="394.4" y="16.5" textLength="56.4" lengthAdjust="spacingAndGlyphs">Doublet,</text>
<text class="ti" x="456.3" y="16.5" textLength="45.5" lengthAdjust="spacingAndGlyphs">3000 fb</text>
<text class="sup2" x="503.1" y="11.6" textLength="5.3" lengthAdjust="spacingAndGlyphs">−</text>
<text class="sup2" x="509.6" y="11.6" textLength="3.6" lengthAdjust="spacingAndGlyphs">1</text>
<rect x="505.8" y="9.6" width="165.2" height="55.6" rx="2" ry="2" fill="#fff" fill-opacity="0.8" stroke="#d6d6d6" stroke-width="0.9"/>
<path d="M508.9 16.9h17.9" stroke="#0000ff" stroke-width="1.15" stroke-dasharray="4 1.8"/>
<text class="lg it" x="533.7" y="19.8" textLength="8.5" lengthAdjust="spacingAndGlyphs">M</text>
<text class="lsub" x="542.4" y="21.3" textLength="3.5" lengthAdjust="spacingAndGlyphs">F</text>
<text class="lg" x="547.45" y="19.8" textLength="7" lengthAdjust="spacingAndGlyphs">=</text>
<text class="lg" x="556.25" y="19.8" textLength="17.2" lengthAdjust="spacingAndGlyphs">850</text>
<text class="lg" x="575.65" y="19.8" textLength="21.9" lengthAdjust="spacingAndGlyphs">GeV,</text>
<text class="lg it" x="599.9" y="19.8" textLength="8.3" lengthAdjust="spacingAndGlyphs">M</text>
<text class="lsub" x="608.1" y="21.3" textLength="4.4" lengthAdjust="spacingAndGlyphs">S</text>
<text class="lg" x="614.35" y="19.8" textLength="7" lengthAdjust="spacingAndGlyphs">=</text>
<text class="lg" x="623.25" y="19.8" textLength="17.3" lengthAdjust="spacingAndGlyphs">500</text>
<text class="lg" x="642.45" y="19.8" textLength="18.9" lengthAdjust="spacingAndGlyphs">GeV</text>
<path d="M508.9 30.25h17.9" stroke="#ff0000" stroke-width="1.15" stroke-dasharray="4 1.8"/>
<text class="lg it" x="533.7" y="33.15" textLength="8.5" lengthAdjust="spacingAndGlyphs">M</text>
<text class="lsub" x="542.4" y="34.65" textLength="3.5" lengthAdjust="spacingAndGlyphs">F</text>
<text class="lg" x="547.45" y="33.15" textLength="7" lengthAdjust="spacingAndGlyphs">=</text>
<text class="lg" x="556.25" y="33.15" textLength="17.2" lengthAdjust="spacingAndGlyphs">800</text>
<text class="lg" x="575.65" y="33.15" textLength="21.9" lengthAdjust="spacingAndGlyphs">GeV,</text>
<text class="lg it" x="599.9" y="33.15" textLength="8.3" lengthAdjust="spacingAndGlyphs">M</text>
<text class="lsub" x="608.1" y="34.65" textLength="4.4" lengthAdjust="spacingAndGlyphs">S</text>
<text class="lg" x="614.35" y="33.15" textLength="7" lengthAdjust="spacingAndGlyphs">=</text>
<text class="lg" x="623.25" y="33.15" textLength="22.7" lengthAdjust="spacingAndGlyphs">1200</text>
<text class="lg" x="648.15" y="33.15" textLength="19.2" lengthAdjust="spacingAndGlyphs">GeV</text>
<path d="M508.9 43.6h17.9" stroke="#000000" stroke-width="1.15" stroke-dasharray="4 1.8"/>
<text class="lg it" x="533.7" y="46.5" textLength="8.5" lengthAdjust="spacingAndGlyphs">M</text>
<text class="lsub" x="542.4" y="48" textLength="3.5" lengthAdjust="spacingAndGlyphs">F</text>
<text class="lg" x="547.45" y="46.5" textLength="7" lengthAdjust="spacingAndGlyphs">=</text>
<text class="lg" x="556.55" y="46.5" textLength="21.7" lengthAdjust="spacingAndGlyphs">1000</text>
<text class="lg" x="581.15" y="46.5" textLength="21.6" lengthAdjust="spacingAndGlyphs">GeV,</text>
<text class="lg it" x="605.4" y="46.5" textLength="8.3" lengthAdjust="spacingAndGlyphs">M</text>
<text class="lsub" x="613.3" y="48" textLength="4.5" lengthAdjust="spacingAndGlyphs">S</text>
<text class="lg" x="619.85" y="46.5" textLength="6.8" lengthAdjust="spacingAndGlyphs">=</text>
<text class="lg" x="628.25" y="46.5" textLength="17.4" lengthAdjust="spacingAndGlyphs">800</text>
<text class="lg" x="648.15" y="46.5" textLength="19.2" lengthAdjust="spacingAndGlyphs">GeV</text>
<path d="M508.7 56.95h18.6" stroke="#008000" stroke-width="1.2"/>
<text class="lg" x="533.45" y="59.85" textLength="69.8" lengthAdjust="spacingAndGlyphs">SM background</text>
</g>
<g>
<clipPath id="cBL"><rect x="36.5" y="258.3" width="290" height="205"/></clipPath>
<g clip-path="url(#cBL)">
<rect x="46.32" y="422.5" width="4.91" height="42.8" fill="#008000" fill-opacity="0.36"/>
<rect x="51.23" y="401.4" width="4.91" height="63.9" fill="#008000" fill-opacity="0.36"/>
<rect x="56.14" y="398.5" width="4.91" height="66.8" fill="#008000" fill-opacity="0.36"/>
<rect x="61.05" y="400.4" width="4.91" height="64.9" fill="#008000" fill-opacity="0.36"/>
<rect x="65.96" y="404.8" width="4.91" height="60.5" fill="#008000" fill-opacity="0.36"/>
<rect x="70.87" y="409.1" width="4.91" height="56.2" fill="#008000" fill-opacity="0.36"/>
<rect x="75.78" y="411.8" width="4.91" height="53.5" fill="#008000" fill-opacity="0.36"/>
<rect x="80.69" y="417.5" width="4.91" height="47.8" fill="#008000" fill-opacity="0.36"/>
<rect x="85.6" y="419.5" width="4.91" height="45.8" fill="#008000" fill-opacity="0.36"/>
<rect x="90.51" y="424" width="4.91" height="41.3" fill="#008000" fill-opacity="0.36"/>
<rect x="95.42" y="430.6" width="4.91" height="34.7" fill="#008000" fill-opacity="0.36"/>
<rect x="100.33" y="426.6" width="4.91" height="38.7" fill="#008000" fill-opacity="0.36"/>
<rect x="105.24" y="437.3" width="4.91" height="28" fill="#008000" fill-opacity="0.36"/>
<rect x="110.15" y="442.4" width="4.91" height="22.9" fill="#008000" fill-opacity="0.36"/>
<rect x="115.06" y="453.2" width="4.91" height="12.1" fill="#008000" fill-opacity="0.36"/>
<rect x="232.9" y="446.6" width="4.91" height="18.7" fill="#008000" fill-opacity="0.36"/>
<path d="M56.14 464V459.4M56.14 459.4H61.05M61.05 459.4V469.3M70.87 464V452.4M70.87 452.4H75.78M75.78 452.4H80.69M80.69 452.4H85.6M85.6 452.4H90.51M90.51 452.4V446.2M90.51 446.2H95.42M95.42 446.2V444.5M95.42 444.5H100.33M100.33 444.5V433.7M100.33 433.7H105.24M105.24 433.7V445M105.24 445H110.15M110.15 445V416.4M110.15 416.4H115.06M115.06 416.4V402.2M115.06 402.2H119.97M119.97 402.2V396M119.97 396H124.88M124.88 396V391M124.88 391H129.79M129.79 391V388M129.79 388H134.7M134.7 388V384.5M134.7 384.5H139.61M139.61 384.5V383.3M139.61 383.3H144.52M144.52 383.3V381.2M144.52 381.2H149.43M149.43 381.2V379.8M149.43 379.8H154.34M154.34 379.8V378.8M154.34 378.8H159.25M159.25 378.8V378.4M159.25 378.4H164.16M164.16 378.4V377.8M164.16 377.8H169.07M169.07 377.8V377.6M169.07 377.6H173.98M173.98 377.6V377.4M173.98 377.4H178.89M178.89 377.4V378M178.89 378H183.8M183.8 378V378.4M183.8 378.4H188.71M188.71 378.4V378.6M188.71 378.6H193.62M193.62 378.6V379M193.62 379H198.53M198.53 379V379.6M198.53 379.6H203.44M203.44 379.6V380.5M203.44 380.5H208.35M208.35 380.5V381.5M208.35 381.5H213.26M213.26 381.5V382.5M213.26 382.5H218.17M218.17 382.5V384M218.17 384H223.08M223.08 384V385.5M223.08 385.5H227.99M227.99 385.5V386.8M227.99 386.8H232.9M232.9 386.8V388M232.9 388H237.81M237.81 388V389.5M237.81 389.5H242.72M242.72 389.5V390.5M242.72 390.5H247.63M247.63 390.5V391.8M247.63 391.8H252.54M252.54 391.8V393M252.54 393H257.45M257.45 393V394.3M257.45 394.3H262.36M262.36 394.3V395.3M262.36 395.3H267.27M267.27 395.3V396.5M267.27 396.5H272.18M272.18 396.5V398M272.18 398H277.09M277.09 398V399M277.09 399H282M282 399V400M282 400H286.91M286.91 400V401M286.91 401H291.82M291.82 401V402M291.82 402H296.73M296.73 402V403M296.73 403H301.64M301.64 403V404.2M301.64 404.2H306.55M306.55 404.2V405.3M306.55 405.3H311.46M311.46 405.3V406.5M311.46 406.5H316.37M316.37 406.5V407.5M316.37 407.5H321.28M321.28 407.5V409.5M321.28 409.5H326.19" fill="none" stroke="#0000ff" stroke-width="1.3" stroke-dasharray="4.8 1.8" stroke-linecap="butt"/>
<path d="M51.23 464V456.9M51.23 456.9H56.14M56.14 456.9V437.3M56.14 437.3H61.05M61.05 437.3V443M61.05 443H65.96M65.96 443V434.4M65.96 434.4H70.87M70.87 434.4V434M70.87 434H75.78M75.78 434V430.5M75.78 430.5H80.69M80.69 430.5V426.8M80.69 426.8H85.6M85.6 426.8V426M85.6 426H90.51M90.51 426V426.4M90.51 426.4H95.42M95.42 426.4V419.5M95.42 419.5H100.33M100.33 419.5V420.2M100.33 420.2H105.24M105.24 420.2V418M105.24 418H110.15M110.15 418V416.4M110.15 416.4H115.06M115.06 416.4V415.4M115.06 415.4H119.97M119.97 415.4V416.4M119.97 416.4H124.88M124.88 416.4V414.3M124.88 414.3H129.79M129.79 414.3V413M129.79 413H134.7M134.7 413H139.61M139.61 413V412.3M139.61 412.3H144.52M144.52 412.3V411.3M144.52 411.3H149.43M149.43 411.3V354M149.43 354H154.34M154.34 354V413.3M154.34 413.3H159.25M159.25 413.3V412.3M159.25 412.3H164.16M164.16 412.3V414.3M164.16 414.3H169.07M169.07 414.3V418.4M169.07 418.4H173.98M173.98 418.4V420.4M173.98 420.4H178.89M178.89 420.4V421M178.89 421H183.8M183.8 421V420.6M183.8 420.6H188.71M188.71 420.6V421.9M188.71 421.9H193.62M193.62 421.9V424.5M193.62 424.5H198.53M198.53 424.5V425.3M198.53 425.3H203.44M203.44 425.3V427.4M203.44 427.4H208.35M208.35 427.4V430M208.35 430H213.26M213.26 430V431.4M213.26 431.4H218.17M218.17 431.4V429.8M218.17 429.8H223.08M223.08 429.8V432.2M223.08 432.2H227.99M227.99 432.2V437.4M227.99 437.4H232.9M232.9 437.4V434M232.9 434H237.81M237.81 434V440.7M237.81 440.7H242.72M242.72 440.7V439.4M242.72 439.4H247.63M247.63 439.4V456.9M247.63 456.9H252.54M252.54 456.9V438.9M252.54 438.9H257.45M257.45 438.9V449.8M257.45 449.8H262.36M262.36 449.8V441M262.36 441H267.27M267.27 441V449.8M267.27 449.8H272.18M272.18 449.8V456.8M272.18 456.8H277.09M277.09 456.8H282M282 456.8H286.91M286.91 456.8V443.1M286.91 443.1H291.82M291.82 443.1V457.1M291.82 457.1H296.73M296.73 457.1V445.9M296.73 445.9H301.64M301.64 445.9V469.3M306.55 464V457.1M306.55 457.1H311.46M311.46 457.1H316.37M316.37 457.1H321.28M321.28 457.1V469.3" fill="none" stroke="#ff0000" stroke-width="1.3" stroke-dasharray="4.8 1.8" stroke-linecap="butt"/>
<path d="M70.87 464V457.7M70.87 457.7H75.78M75.78 457.7V461.5M75.78 461.5H80.69M80.69 461.5V451.1M80.69 451.1H85.6M85.6 451.1V469.3M90.51 464V446.8M90.51 446.8H95.42M95.42 446.8V440.1M95.42 440.1H100.33M100.33 440.1V469.3M105.24 464V440.1M105.24 440.1H110.15M110.15 440.1V431.3M110.15 431.3H115.06M115.06 431.3V434M115.06 434H119.97M119.97 434V435M119.97 435H124.88M124.88 435V434M124.88 434H129.79M129.79 434V428.8M129.79 428.8H134.7M134.7 428.8V427.2M134.7 427.2H139.61M139.61 427.2V425.5M139.61 425.5H144.52M144.52 425.5V424.5M144.52 424.5H149.43M149.43 424.5V423.5M149.43 423.5H154.34M154.34 423.5V407.2M154.34 407.2H159.25M159.25 407.2V396M159.25 396H164.16M164.16 396V389M164.16 389H169.07M169.07 389V383.9M169.07 383.9H173.98M173.98 383.9V379.8M173.98 379.8H178.89M178.89 379.8V377.2M178.89 377.2H183.8M183.8 377.2V374.3M183.8 374.3H188.71M188.71 374.3V373.7M188.71 373.7H193.62M193.62 373.7H198.53M198.53 373.7V373.9M198.53 373.9H203.44M203.44 373.9V374.2M203.44 374.2H208.35M208.35 374.2V374.8M208.35 374.8H213.26M213.26 374.8V375.5M213.26 375.5H218.17M218.17 375.5V376.5M218.17 376.5H223.08M223.08 376.5V377.5M223.08 377.5H227.99M227.99 377.5V378.8M227.99 378.8H232.9M232.9 378.8V380.2M232.9 380.2H237.81M237.81 380.2V381.7M237.81 381.7H242.72M242.72 381.7V383.2M242.72 383.2H247.63M247.63 383.2V384.5M247.63 384.5H252.54M252.54 384.5V385.8M252.54 385.8H257.45M257.45 385.8V387.2M257.45 387.2H262.36M262.36 387.2V388.3M262.36 388.3H267.27M267.27 388.3V389.8M267.27 389.8H272.18M272.18 389.8V391.2M272.18 391.2H277.09M277.09 391.2V392.3M277.09 392.3H282M282 392.3V393.5M282 393.5H286.91M286.91 393.5V394.5M286.91 394.5H291.82M291.82 394.5V395.5M291.82 395.5H296.73M296.73 395.5V396.5M296.73 396.5H301.64M301.64 396.5V397.5M301.64 397.5H306.55M306.55 397.5V398.5M306.55 398.5H311.46M311.46 398.5V400M311.46 400H316.37M316.37 400V402.5M316.37 402.5H321.28M321.28 402.5V403.2M321.28 403.2H326.19" fill="none" stroke="#000000" stroke-width="1.3" stroke-dasharray="4.8 1.8" stroke-linecap="butt"/>
<path d="M46.32 463.3L46.32 422.5L51.23 422.5L51.23 401.4L56.14 401.4L56.14 398.5L61.05 398.5L61.05 400.4L65.96 400.4L65.96 404.8L70.87 404.8L70.87 409.1L75.78 409.1L75.78 411.8L80.69 411.8L80.69 417.5L85.6 417.5L85.6 419.5L90.51 419.5L90.51 424L95.42 424L95.42 430.6L100.33 430.6L100.33 426.6L105.24 426.6L105.24 437.3L110.15 437.3L110.15 442.4L115.06 442.4L115.06 453.2L119.97 453.2L119.97 463.3M232.9 463.3L232.9 446.6L237.81 446.6L237.81 463.3" fill="none" stroke="#008000" stroke-width="1.3" stroke-linejoin="miter"/>
</g>
<path d="M36.5 274.22h2.4M326.5 274.22h-2.4M36.5 270.21h2.4M326.5 270.21h-2.4M36.5 267.36h2.4M326.5 267.36h-2.4M36.5 265.16h2.4M326.5 265.16h-2.4M36.5 263.35h2.4M326.5 263.35h-2.4M36.5 261.83h2.4M326.5 261.83h-2.4M36.5 260.51h2.4M326.5 260.51h-2.4M36.5 259.34h2.4M326.5 259.34h-2.4M36.5 297h2.4M326.5 297h-2.4M36.5 292.99h2.4M326.5 292.99h-2.4M36.5 290.14h2.4M326.5 290.14h-2.4M36.5 287.93h2.4M326.5 287.93h-2.4M36.5 286.13h2.4M326.5 286.13h-2.4M36.5 284.61h2.4M326.5 284.61h-2.4M36.5 283.29h2.4M326.5 283.29h-2.4M36.5 282.12h2.4M326.5 282.12h-2.4M36.5 319.78h2.4M326.5 319.78h-2.4M36.5 315.77h2.4M326.5 315.77h-2.4M36.5 312.92h2.4M326.5 312.92h-2.4M36.5 310.71h2.4M326.5 310.71h-2.4M36.5 308.91h2.4M326.5 308.91h-2.4M36.5 307.38h2.4M326.5 307.38h-2.4M36.5 306.06h2.4M326.5 306.06h-2.4M36.5 304.9h2.4M326.5 304.9h-2.4M36.5 342.55h2.4M326.5 342.55h-2.4M36.5 338.54h2.4M326.5 338.54h-2.4M36.5 335.7h2.4M326.5 335.7h-2.4M36.5 333.49h2.4M326.5 333.49h-2.4M36.5 331.69h2.4M326.5 331.69h-2.4M36.5 330.16h2.4M326.5 330.16h-2.4M36.5 328.84h2.4M326.5 328.84h-2.4M36.5 327.68h2.4M326.5 327.68h-2.4M36.5 365.33h2.4M326.5 365.33h-2.4M36.5 361.32h2.4M326.5 361.32h-2.4M36.5 358.48h2.4M326.5 358.48h-2.4M36.5 356.27h2.4M326.5 356.27h-2.4M36.5 354.46h2.4M326.5 354.46h-2.4M36.5 352.94h2.4M326.5 352.94h-2.4M36.5 351.62h2.4M326.5 351.62h-2.4M36.5 350.45h2.4M326.5 350.45h-2.4M36.5 388.11h2.4M326.5 388.11h-2.4M36.5 384.1h2.4M326.5 384.1h-2.4M36.5 381.25h2.4M326.5 381.25h-2.4M36.5 379.05h2.4M326.5 379.05h-2.4M36.5 377.24h2.4M326.5 377.24h-2.4M36.5 375.72h2.4M326.5 375.72h-2.4M36.5 374.4h2.4M326.5 374.4h-2.4M36.5 373.23h2.4M326.5 373.23h-2.4M36.5 410.89h2.4M326.5 410.89h-2.4M36.5 406.88h2.4M326.5 406.88h-2.4M36.5 404.03h2.4M326.5 404.03h-2.4M36.5 401.82h2.4M326.5 401.82h-2.4M36.5 400.02h2.4M326.5 400.02h-2.4M36.5 398.49h2.4M326.5 398.49h-2.4M36.5 397.17h2.4M326.5 397.17h-2.4M36.5 396.01h2.4M326.5 396.01h-2.4M36.5 433.67h2.4M326.5 433.67h-2.4M36.5 429.65h2.4M326.5 429.65h-2.4M36.5 426.81h2.4M326.5 426.81h-2.4M36.5 424.6h2.4M326.5 424.6h-2.4M36.5 422.8h2.4M326.5 422.8h-2.4M36.5 421.27h2.4M326.5 421.27h-2.4M36.5 419.95h2.4M326.5 419.95h-2.4M36.5 418.79h2.4M326.5 418.79h-2.4M36.5 456.44h2.4M326.5 456.44h-2.4M36.5 452.43h2.4M326.5 452.43h-2.4M36.5 449.59h2.4M326.5 449.59h-2.4M36.5 447.38h2.4M326.5 447.38h-2.4M36.5 445.58h2.4M326.5 445.58h-2.4M36.5 444.05h2.4M326.5 444.05h-2.4M36.5 442.73h2.4M326.5 442.73h-2.4M36.5 441.56h2.4M326.5 441.56h-2.4" stroke="#000" stroke-width="0.7" fill="none"/>
<path d="M36.5 258.3h4.2M326.5 258.3h-4.2M36.5 281.08h4.2M326.5 281.08h-4.2M36.5 303.86h4.2M326.5 303.86h-4.2M36.5 326.63h4.2M326.5 326.63h-4.2M36.5 349.41h4.2M326.5 349.41h-4.2M36.5 372.19h4.2M326.5 372.19h-4.2M36.5 394.97h4.2M326.5 394.97h-4.2M36.5 417.74h4.2M326.5 417.74h-4.2M36.5 440.52h4.2M326.5 440.52h-4.2M36.5 463.3h4.2M326.5 463.3h-4.2M36.5 463.3v-3.7M72.5 463.3v-3.7M109.5 463.3v-3.7M145.5 463.3v-3.7M181.5 463.3v-3.7M217.5 463.3v-3.7M254.5 463.3v-3.7M290.5 463.3v-3.7M326.5 463.3v-3.7" stroke="#000" stroke-width="0.85" fill="none"/>
<rect x="36.5" y="258.3" width="290" height="205" fill="none" stroke="#000" stroke-width="0.7"/>
<text class="tk" x="18.1" y="261.5" textLength="10.9" lengthAdjust="spacingAndGlyphs">10</text>
<text class="sup" x="29.5" y="257.9" textLength="3.8" lengthAdjust="spacingAndGlyphs">7</text>
<text class="tk" x="18.1" y="284.28" textLength="10.9" lengthAdjust="spacingAndGlyphs">10</text>
<text class="sup" x="29.5" y="280.68" textLength="3.8" lengthAdjust="spacingAndGlyphs">6</text>
<text class="tk" x="18.1" y="307.06" textLength="10.9" lengthAdjust="spacingAndGlyphs">10</text>
<text class="sup" x="29.5" y="303.46" textLength="3.8" lengthAdjust="spacingAndGlyphs">5</text>
<text class="tk" x="18.1" y="329.83" textLength="10.9" lengthAdjust="spacingAndGlyphs">10</text>
<text class="sup" x="29.5" y="326.23" textLength="3.8" lengthAdjust="spacingAndGlyphs">4</text>
<text class="tk" x="18.1" y="352.61" textLength="10.9" lengthAdjust="spacingAndGlyphs">10</text>
<text class="sup" x="29.5" y="349.01" textLength="3.8" lengthAdjust="spacingAndGlyphs">3</text>
<text class="tk" x="18.1" y="375.39" textLength="10.9" lengthAdjust="spacingAndGlyphs">10</text>
<text class="sup" x="29.5" y="371.79" textLength="3.8" lengthAdjust="spacingAndGlyphs">2</text>
<text class="tk" x="18.1" y="398.17" textLength="10.9" lengthAdjust="spacingAndGlyphs">10</text>
<text class="sup" x="29.5" y="394.57" textLength="3.8" lengthAdjust="spacingAndGlyphs">1</text>
<text class="tk" x="18.1" y="420.94" textLength="10.9" lengthAdjust="spacingAndGlyphs">10</text>
<text class="sup" x="29.5" y="417.34" textLength="3.8" lengthAdjust="spacingAndGlyphs">0</text>
<text class="tk" x="12.7" y="443.72" textLength="11.2" lengthAdjust="spacingAndGlyphs">10</text>
<text class="sup" x="24.3" y="441.02" textLength="5.1" lengthAdjust="spacingAndGlyphs">−</text>
<text class="sup" x="29.4" y="440.92" textLength="4" lengthAdjust="spacingAndGlyphs">1</text>
<text class="tk" x="12.7" y="466.5" textLength="11.2" lengthAdjust="spacingAndGlyphs">10</text>
<text class="sup" x="24.3" y="463.8" textLength="5.1" lengthAdjust="spacingAndGlyphs">−</text>
<text class="sup" x="29.4" y="463.7" textLength="4" lengthAdjust="spacingAndGlyphs">2</text>
<text class="tk" x="33.45" y="473" textLength="6.1" lengthAdjust="spacingAndGlyphs">0</text>
<text class="tk" x="64.15" y="473" textLength="17.2" lengthAdjust="spacingAndGlyphs">250</text>
<text class="tk" x="100.4" y="473" textLength="17.2" lengthAdjust="spacingAndGlyphs">500</text>
<text class="tk" x="136.65" y="473" textLength="17.2" lengthAdjust="spacingAndGlyphs">750</text>
<text class="tk" x="170.1" y="473" textLength="22.8" lengthAdjust="spacingAndGlyphs">1000</text>
<text class="tk" x="206.35" y="473" textLength="22.8" lengthAdjust="spacingAndGlyphs">1250</text>
<text class="tk" x="242.6" y="473" textLength="22.8" lengthAdjust="spacingAndGlyphs">1500</text>
<text class="tk" x="278.85" y="473" textLength="22.8" lengthAdjust="spacingAndGlyphs">1750</text>
<text class="tk" x="315.1" y="473" textLength="22.8" lengthAdjust="spacingAndGlyphs">2000</text>
<text class="lb it" x="155.8" y="489.3" textLength="9.6" lengthAdjust="spacingAndGlyphs">m</text>
<text class="lsub2" x="166.3" y="490.8" textLength="7.4" lengthAdjust="spacingAndGlyphs">3ℓ</text>
<text class="lb" x="177.2" y="489.3" textLength="28.5" lengthAdjust="spacingAndGlyphs">[GeV]</text>
<text class="lb" transform="translate(7.7 360.1) rotate(-90)" text-anchor="middle" textLength="33.4" lengthAdjust="spacingAndGlyphs">Events</text>
<text class="ti bi" x="42.3" y="269.9" textLength="56.4" lengthAdjust="spacingAndGlyphs">Doublet,</text>
<text class="ti" x="104.2" y="269.9" textLength="45.5" lengthAdjust="spacingAndGlyphs">3000 fb</text>
<text class="sup2" x="151" y="265" textLength="5.3" lengthAdjust="spacingAndGlyphs">−</text>
<text class="sup2" x="157.5" y="265" textLength="3.6" lengthAdjust="spacingAndGlyphs">1</text>
<rect x="156.8" y="262.5" width="165.2" height="55.6" rx="2" ry="2" fill="#fff" fill-opacity="0.8" stroke="#d6d6d6" stroke-width="0.9"/>
<path d="M159.9 269.8h17.9" stroke="#0000ff" stroke-width="1.15" stroke-dasharray="4 1.8"/>
<text class="lg it" x="184.7" y="272.7" textLength="8.5" lengthAdjust="spacingAndGlyphs">M</text>
<text class="lsub" x="193.4" y="274.2" textLength="3.5" lengthAdjust="spacingAndGlyphs">F</text>
<text class="lg" x="198.45" y="272.7" textLength="7" lengthAdjust="spacingAndGlyphs">=</text>
<text class="lg" x="207.25" y="272.7" textLength="17.2" lengthAdjust="spacingAndGlyphs">850</text>
<text class="lg" x="226.65" y="272.7" textLength="21.9" lengthAdjust="spacingAndGlyphs">GeV,</text>
<text class="lg it" x="250.9" y="272.7" textLength="8.3" lengthAdjust="spacingAndGlyphs">M</text>
<text class="lsub" x="259.1" y="274.2" textLength="4.4" lengthAdjust="spacingAndGlyphs">S</text>
<text class="lg" x="265.35" y="272.7" textLength="7" lengthAdjust="spacingAndGlyphs">=</text>
<text class="lg" x="274.25" y="272.7" textLength="17.3" lengthAdjust="spacingAndGlyphs">500</text>
<text class="lg" x="293.45" y="272.7" textLength="18.9" lengthAdjust="spacingAndGlyphs">GeV</text>
<path d="M159.9 283.15h17.9" stroke="#ff0000" stroke-width="1.15" stroke-dasharray="4 1.8"/>
<text class="lg it" x="184.7" y="286.05" textLength="8.5" lengthAdjust="spacingAndGlyphs">M</text>
<text class="lsub" x="193.4" y="287.55" textLength="3.5" lengthAdjust="spacingAndGlyphs">F</text>
<text class="lg" x="198.45" y="286.05" textLength="7" lengthAdjust="spacingAndGlyphs">=</text>
<text class="lg" x="207.25" y="286.05" textLength="17.2" lengthAdjust="spacingAndGlyphs">800</text>
<text class="lg" x="226.65" y="286.05" textLength="21.9" lengthAdjust="spacingAndGlyphs">GeV,</text>
<text class="lg it" x="250.9" y="286.05" textLength="8.3" lengthAdjust="spacingAndGlyphs">M</text>
<text class="lsub" x="259.1" y="287.55" textLength="4.4" lengthAdjust="spacingAndGlyphs">S</text>
<text class="lg" x="265.35" y="286.05" textLength="7" lengthAdjust="spacingAndGlyphs">=</text>
<text class="lg" x="274.25" y="286.05" textLength="22.7" lengthAdjust="spacingAndGlyphs">1200</text>
<text class="lg" x="299.15" y="286.05" textLength="19.2" lengthAdjust="spacingAndGlyphs">GeV</text>
<path d="M159.9 296.5h17.9" stroke="#000000" stroke-width="1.15" stroke-dasharray="4 1.8"/>
<text class="lg it" x="184.7" y="299.4" textLength="8.5" lengthAdjust="spacingAndGlyphs">M</text>
<text class="lsub" x="193.4" y="300.9" textLength="3.5" lengthAdjust="spacingAndGlyphs">F</text>
<text class="lg" x="198.45" y="299.4" textLength="7" lengthAdjust="spacingAndGlyphs">=</text>
<text class="lg" x="207.55" y="299.4" textLength="21.7" lengthAdjust="spacingAndGlyphs">1000</text>
<text class="lg" x="232.15" y="299.4" textLength="21.6" lengthAdjust="spacingAndGlyphs">GeV,</text>
<text class="lg it" x="256.4" y="299.4" textLength="8.3" lengthAdjust="spacingAndGlyphs">M</text>
<text class="lsub" x="264.3" y="300.9" textLength="4.5" lengthAdjust="spacingAndGlyphs">S</text>
<text class="lg" x="270.85" y="299.4" textLength="6.8" lengthAdjust="spacingAndGlyphs">=</text>
<text class="lg" x="279.25" y="299.4" textLength="17.4" lengthAdjust="spacingAndGlyphs">800</text>
<text class="lg" x="299.15" y="299.4" textLength="19.2" lengthAdjust="spacingAndGlyphs">GeV</text>
<path d="M159.7 309.85h18.6" stroke="#008000" stroke-width="1.2"/>
<text class="lg" x="184.45" y="312.75" textLength="69.8" lengthAdjust="spacingAndGlyphs">SM background</text>
</g>
<g>
<clipPath id="cBR"><rect x="385.5" y="258.3" width="289.9" height="205"/></clipPath>
<g clip-path="url(#cBR)">
<path d="M405.14 464V459.2M405.14 459.2H410.05M410.05 459.2V469.3M419.87 464V452.5M419.87 452.5H424.78M424.78 452.5V458.8M424.78 458.8H429.69M429.69 458.8H434.6M434.6 458.8V452.5M434.6 452.5H439.51M439.51 452.5V452.2M439.51 452.2H444.42M444.42 452.2V442.8M444.42 442.8H449.33M449.33 442.8V440M449.33 440H454.24M454.24 440V458.8M454.24 458.8H459.15M459.15 458.8V417.6M459.15 417.6H464.06M464.06 417.6V404.5M464.06 404.5H468.97M468.97 404.5V399M468.97 399H473.88M473.88 399V394.5M473.88 394.5H478.79M478.79 394.5V390.5M478.79 390.5H483.7M483.7 390.5V387M483.7 387H488.61M488.61 387V384.5M488.61 384.5H493.52M493.52 384.5V382.5M493.52 382.5H498.43M498.43 382.5V381M498.43 381H503.34M503.34 381V379.8M503.34 379.8H508.25M508.25 379.8V379M508.25 379H513.16M513.16 379V378.4M513.16 378.4H518.07M518.07 378.4V378M518.07 378H522.98M522.98 378V378.2M522.98 378.2H527.89M527.89 378.2V378.5M527.89 378.5H532.8M532.8 378.5V379M532.8 379H537.71M537.71 379V379.6M537.71 379.6H542.62M542.62 379.6V380.3M542.62 380.3H547.53M547.53 380.3V381M547.53 381H552.44M552.44 381V381.7M552.44 381.7H557.35M557.35 381.7V382.6M557.35 382.6H562.26M562.26 382.6V383.6M562.26 383.6H567.17M567.17 383.6V384.3M567.17 384.3H572.08M572.08 384.3V385.5M572.08 385.5H576.99M576.99 385.5V387M576.99 387H581.9M581.9 387V388.5M581.9 388.5H586.81M586.81 388.5V389.8M586.81 389.8H591.72M591.72 389.8V391.2M591.72 391.2H596.63M596.63 391.2V392.4M596.63 392.4H601.54M601.54 392.4V393.6M601.54 393.6H606.45M606.45 393.6V395M606.45 395H611.36M611.36 395V396.3M611.36 396.3H616.27M616.27 396.3V397.5M616.27 397.5H621.18M621.18 397.5V398.6M621.18 398.6H626.09M626.09 398.6V399.5M626.09 399.5H631M631 399.5V400.5M631 400.5H635.91M635.91 400.5V401.5M635.91 401.5H640.82M640.82 401.5V402.6M640.82 402.6H645.73M645.73 402.6V403.8M645.73 403.8H650.64M650.64 403.8V405M650.64 405H655.55M655.55 405V406.2M655.55 406.2H660.46M660.46 406.2V407.2M660.46 407.2H665.37M665.37 407.2V408.2M665.37 408.2H670.28M670.28 408.2V410.5M670.28 410.5H675.19" fill="none" stroke="#0000ff" stroke-width="1.3" stroke-dasharray="4.8 1.8" stroke-linecap="butt"/>
<path d="M405.14 464V446M405.14 446H410.05M410.05 446H414.96M414.96 446V440.9M414.96 440.9H419.87M419.87 440.9H424.78M424.78 440.9V438.9M424.78 438.9H429.69M429.69 438.9V440.9M429.69 440.9H434.6M434.6 440.9V433M434.6 433H439.51M439.51 433V439M439.51 439H444.42M444.42 439V424.5M444.42 424.5H449.33M449.33 424.5V426.3M449.33 426.3H454.24M454.24 426.3V424.5M454.24 424.5H459.15M459.15 424.5V422.8M459.15 422.8H464.06M464.06 422.8V421.9M464.06 421.9H468.97M468.97 421.9V423.3M468.97 423.3H473.88M473.88 423.3V420.5M473.88 420.5H478.79M478.79 420.5V418.6M478.79 418.6H483.7M483.7 418.6V419M483.7 419H488.61M488.61 419V419.3M488.61 419.3H493.52M493.52 419.3V417M493.52 417H498.43M498.43 417V400.5M498.43 400.5H503.34M503.34 400.5V420.9M503.34 420.9H508.25M508.25 420.9V416.7M508.25 416.7H513.16M513.16 416.7V419M513.16 419H518.07M518.07 419V420.6M518.07 420.6H522.98M522.98 420.6V422.1M522.98 422.1H527.89M527.89 422.1V424M527.89 424H532.8M532.8 424V422.7M532.8 422.7H537.71M537.71 422.7V424.3M537.71 424.3H542.62M542.62 424.3V425.2M542.62 425.2H547.53M547.53 425.2V426.8M547.53 426.8H552.44M552.44 426.8V430.5M552.44 430.5H557.35M557.35 430.5V430.4M557.35 430.4H562.26M562.26 430.4V430.2M562.26 430.2H567.17M567.17 430.2V430M567.17 430H572.08M572.08 430V432.8M572.08 432.8H576.99M576.99 432.8V436.4M576.99 436.4H581.9M581.9 436.4V435M581.9 435H586.81M586.81 435V440.1M586.81 440.1H591.72M591.72 440.1V439.4M591.72 439.4H596.63M596.63 439.4V456.8M596.63 456.8H601.54M601.54 456.8V440.8M601.54 440.8H606.45M606.45 440.8V456.8M606.45 456.8H611.36M611.36 456.8V440.8M611.36 440.8H616.27M616.27 440.8V450.2M616.27 450.2H621.18M621.18 450.2V456.5M621.18 456.5H626.09M626.09 456.5H631M631 456.5H635.91M635.91 456.5V443.4M635.91 443.4H640.82M640.82 443.4V456.5M640.82 456.5H645.73M645.73 456.5V446M645.73 446H650.64M650.64 446V469.3M655.55 464V456.5M655.55 456.5H660.46M660.46 456.5H665.37M665.37 456.5H670.28M670.28 456.5V469.3" fill="none" stroke="#ff0000" stroke-width="1.3" stroke-dasharray="4.8 1.8" stroke-linecap="butt"/>
<path d="M419.87 464V461.5M419.87 461.5H424.78M424.78 461.5V469.3M429.69 464V458.3M429.69 458.3H434.6M434.6 458.3V469.3M439.51 464V451.7M439.51 451.7H444.42M444.42 451.7V442M444.42 442H449.33M449.33 442V457.8M449.33 457.8H454.24M454.24 457.8V441.5M454.24 441.5H459.15M459.15 441.5V434.3M459.15 434.3H464.06M464.06 434.3V435M464.06 435H468.97M468.97 435V441.1M468.97 441.1H473.88M473.88 441.1V438.5M473.88 438.5H478.79M478.79 438.5V430.5M478.79 430.5H483.7M483.7 430.5H488.61M488.61 430.5V428.3M488.61 428.3H493.52M493.52 428.3V429.4M493.52 429.4H498.43M498.43 429.4V424.7M498.43 424.7H503.34M503.34 424.7V408.5M503.34 408.5H508.25M508.25 408.5V396.2M508.25 396.2H513.16M513.16 396.2V390.1M513.16 390.1H518.07M518.07 390.1V384.6M518.07 384.6H522.98M522.98 384.6V380.6M522.98 380.6H527.89M527.89 380.6V378M527.89 378H532.8M532.8 378V375.9M532.8 375.9H537.71M537.71 375.9V374.9M537.71 374.9H542.62M542.62 374.9V374.5M542.62 374.5H547.53M547.53 374.5H552.44M552.44 374.5V374.9M552.44 374.9H557.35M557.35 374.9V375.5M557.35 375.5H562.26M562.26 375.5V376.6M562.26 376.6H567.17M567.17 376.6V377.5M567.17 377.5H572.08M572.08 377.5V378.4M572.08 378.4H576.99M576.99 378.4V379.5M576.99 379.5H581.9M581.9 379.5V380.6M581.9 380.6H586.81M586.81 380.6V382M586.81 382H591.72M591.72 382V383.4M591.72 383.4H596.63M596.63 383.4V384.6M596.63 384.6H601.54M601.54 384.6V385.7M601.54 385.7H606.45M606.45 385.7V387M606.45 387H611.36M611.36 387V388M611.36 388H616.27M616.27 388V389.5M616.27 389.5H621.18M621.18 389.5V390.7M621.18 390.7H626.09M626.09 390.7V392M626.09 392H631M631 392V393M631 393H635.91M635.91 393V394.3M635.91 394.3H640.82M640.82 394.3V395.5M640.82 395.5H645.73M645.73 395.5V396.5M645.73 396.5H650.64M650.64 396.5V397.5M650.64 397.5H655.55M655.55 397.5V398.9M655.55 398.9H660.46M660.46 398.9V400.5M660.46 400.5H665.37M665.37 400.5V402.6M665.37 402.6H670.28M670.28 402.6V403M670.28 403H675.19" fill="none" stroke="#000000" stroke-width="1.3" stroke-dasharray="4.8 1.8" stroke-linecap="butt"/>
</g>
<path d="M385.5 274.22h2.4M675.4 274.22h-2.4M385.5 270.21h2.4M675.4 270.21h-2.4M385.5 267.36h2.4M675.4 267.36h-2.4M385.5 265.16h2.4M675.4 265.16h-2.4M385.5 263.35h2.4M675.4 263.35h-2.4M385.5 261.83h2.4M675.4 261.83h-2.4M385.5 260.51h2.4M675.4 260.51h-2.4M385.5 259.34h2.4M675.4 259.34h-2.4M385.5 297h2.4M675.4 297h-2.4M385.5 292.99h2.4M675.4 292.99h-2.4M385.5 290.14h2.4M675.4 290.14h-2.4M385.5 287.93h2.4M675.4 287.93h-2.4M385.5 286.13h2.4M675.4 286.13h-2.4M385.5 284.61h2.4M675.4 284.61h-2.4M385.5 283.29h2.4M675.4 283.29h-2.4M385.5 282.12h2.4M675.4 282.12h-2.4M385.5 319.78h2.4M675.4 319.78h-2.4M385.5 315.77h2.4M675.4 315.77h-2.4M385.5 312.92h2.4M675.4 312.92h-2.4M385.5 310.71h2.4M675.4 310.71h-2.4M385.5 308.91h2.4M675.4 308.91h-2.4M385.5 307.38h2.4M675.4 307.38h-2.4M385.5 306.06h2.4M675.4 306.06h-2.4M385.5 304.9h2.4M675.4 304.9h-2.4M385.5 342.55h2.4M675.4 342.55h-2.4M385.5 338.54h2.4M675.4 338.54h-2.4M385.5 335.7h2.4M675.4 335.7h-2.4M385.5 333.49h2.4M675.4 333.49h-2.4M385.5 331.69h2.4M675.4 331.69h-2.4M385.5 330.16h2.4M675.4 330.16h-2.4M385.5 328.84h2.4M675.4 328.84h-2.4M385.5 327.68h2.4M675.4 327.68h-2.4M385.5 365.33h2.4M675.4 365.33h-2.4M385.5 361.32h2.4M675.4 361.32h-2.4M385.5 358.48h2.4M675.4 358.48h-2.4M385.5 356.27h2.4M675.4 356.27h-2.4M385.5 354.46h2.4M675.4 354.46h-2.4M385.5 352.94h2.4M675.4 352.94h-2.4M385.5 351.62h2.4M675.4 351.62h-2.4M385.5 350.45h2.4M675.4 350.45h-2.4M385.5 388.11h2.4M675.4 388.11h-2.4M385.5 384.1h2.4M675.4 384.1h-2.4M385.5 381.25h2.4M675.4 381.25h-2.4M385.5 379.05h2.4M675.4 379.05h-2.4M385.5 377.24h2.4M675.4 377.24h-2.4M385.5 375.72h2.4M675.4 375.72h-2.4M385.5 374.4h2.4M675.4 374.4h-2.4M385.5 373.23h2.4M675.4 373.23h-2.4M385.5 410.89h2.4M675.4 410.89h-2.4M385.5 406.88h2.4M675.4 406.88h-2.4M385.5 404.03h2.4M675.4 404.03h-2.4M385.5 401.82h2.4M675.4 401.82h-2.4M385.5 400.02h2.4M675.4 400.02h-2.4M385.5 398.49h2.4M675.4 398.49h-2.4M385.5 397.17h2.4M675.4 397.17h-2.4M385.5 396.01h2.4M675.4 396.01h-2.4M385.5 433.67h2.4M675.4 433.67h-2.4M385.5 429.65h2.4M675.4 429.65h-2.4M385.5 426.81h2.4M675.4 426.81h-2.4M385.5 424.6h2.4M675.4 424.6h-2.4M385.5 422.8h2.4M675.4 422.8h-2.4M385.5 421.27h2.4M675.4 421.27h-2.4M385.5 419.95h2.4M675.4 419.95h-2.4M385.5 418.79h2.4M675.4 418.79h-2.4M385.5 456.44h2.4M675.4 456.44h-2.4M385.5 452.43h2.4M675.4 452.43h-2.4M385.5 449.59h2.4M675.4 449.59h-2.4M385.5 447.38h2.4M675.4 447.38h-2.4M385.5 445.58h2.4M675.4 445.58h-2.4M385.5 444.05h2.4M675.4 444.05h-2.4M385.5 442.73h2.4M675.4 442.73h-2.4M385.5 441.56h2.4M675.4 441.56h-2.4" stroke="#000" stroke-width="0.7" fill="none"/>
<path d="M385.5 258.3h4.2M675.4 258.3h-4.2M385.5 281.08h4.2M675.4 281.08h-4.2M385.5 303.86h4.2M675.4 303.86h-4.2M385.5 326.63h4.2M675.4 326.63h-4.2M385.5 349.41h4.2M675.4 349.41h-4.2M385.5 372.19h4.2M675.4 372.19h-4.2M385.5 394.97h4.2M675.4 394.97h-4.2M385.5 417.74h4.2M675.4 417.74h-4.2M385.5 440.52h4.2M675.4 440.52h-4.2M385.5 463.3h4.2M675.4 463.3h-4.2M385.5 463.3v-3.7M421.5 463.3v-3.7M457.5 463.3v-3.7M494.5 463.3v-3.7M530.5 463.3v-3.7M566.5 463.3v-3.7M602.5 463.3v-3.7M639.5 463.3v-3.7M675.4 463.3v-3.7" stroke="#000" stroke-width="0.85" fill="none"/>
<rect x="385.5" y="258.3" width="289.9" height="205" fill="none" stroke="#000" stroke-width="0.7"/>
<text class="tk" x="367.1" y="261.5" textLength="10.9" lengthAdjust="spacingAndGlyphs">10</text>
<text class="sup" x="378.5" y="257.9" textLength="3.8" lengthAdjust="spacingAndGlyphs">7</text>
<text class="tk" x="367.1" y="284.28" textLength="10.9" lengthAdjust="spacingAndGlyphs">10</text>
<text class="sup" x="378.5" y="280.68" textLength="3.8" lengthAdjust="spacingAndGlyphs">6</text>
<text class="tk" x="367.1" y="307.06" textLength="10.9" lengthAdjust="spacingAndGlyphs">10</text>
<text class="sup" x="378.5" y="303.46" textLength="3.8" lengthAdjust="spacingAndGlyphs">5</text>
<text class="tk" x="367.1" y="329.83" textLength="10.9" lengthAdjust="spacingAndGlyphs">10</text>
<text class="sup" x="378.5" y="326.23" textLength="3.8" lengthAdjust="spacingAndGlyphs">4</text>
<text class="tk" x="367.1" y="352.61" textLength="10.9" lengthAdjust="spacingAndGlyphs">10</text>
<text class="sup" x="378.5" y="349.01" textLength="3.8" lengthAdjust="spacingAndGlyphs">3</text>
<text class="tk" x="367.1" y="375.39" textLength="10.9" lengthAdjust="spacingAndGlyphs">10</text>
<text class="sup" x="378.5" y="371.79" textLength="3.8" lengthAdjust="spacingAndGlyphs">2</text>
<text class="tk" x="367.1" y="398.17" textLength="10.9" lengthAdjust="spacingAndGlyphs">10</text>
<text class="sup" x="378.5" y="394.57" textLength="3.8" lengthAdjust="spacingAndGlyphs">1</text>
<text class="tk" x="367.1" y="420.94" textLength="10.9" lengthAdjust="spacingAndGlyphs">10</text>
<text class="sup" x="378.5" y="417.34" textLength="3.8" lengthAdjust="spacingAndGlyphs">0</text>
<text class="tk" x="361.7" y="443.72" textLength="11.2" lengthAdjust="spacingAndGlyphs">10</text>
<text class="sup" x="373.3" y="441.02" textLength="5.1" lengthAdjust="spacingAndGlyphs">−</text>
<text class="sup" x="378.4" y="440.92" textLength="4" lengthAdjust="spacingAndGlyphs">1</text>
<text class="tk" x="361.7" y="466.5" textLength="11.2" lengthAdjust="spacingAndGlyphs">10</text>
<text class="sup" x="373.3" y="463.8" textLength="5.1" lengthAdjust="spacingAndGlyphs">−</text>
<text class="sup" x="378.4" y="463.7" textLength="4" lengthAdjust="spacingAndGlyphs">2</text>
<text class="tk" x="382.45" y="473" textLength="6.1" lengthAdjust="spacingAndGlyphs">0</text>
<text class="tk" x="413.14" y="473" textLength="17.2" lengthAdjust="spacingAndGlyphs">250</text>
<text class="tk" x="449.38" y="473" textLength="17.2" lengthAdjust="spacingAndGlyphs">500</text>
<text class="tk" x="485.61" y="473" textLength="17.2" lengthAdjust="spacingAndGlyphs">750</text>
<text class="tk" x="519.05" y="473" textLength="22.8" lengthAdjust="spacingAndGlyphs">1000</text>
<text class="tk" x="555.29" y="473" textLength="22.8" lengthAdjust="spacingAndGlyphs">1250</text>
<text class="tk" x="591.52" y="473" textLength="22.8" lengthAdjust="spacingAndGlyphs">1500</text>
<text class="tk" x="627.76" y="473" textLength="22.8" lengthAdjust="spacingAndGlyphs">1750</text>
<text class="tk" x="664" y="473" textLength="22.8" lengthAdjust="spacingAndGlyphs">2000</text>
<text class="lb it" x="493.45" y="489.3" textLength="9.55" lengthAdjust="spacingAndGlyphs">m</text>
<text class="lsub2" x="503.5" y="490.8" textLength="7.2" lengthAdjust="spacingAndGlyphs">3ℓ</text>
<text class="lb" x="510.4" y="489.3" textLength="21.7" lengthAdjust="spacingAndGlyphs">_diff</text>
<text class="lb" x="535.5" y="489.3" textLength="29.8" lengthAdjust="spacingAndGlyphs">[GeV]</text>
<text class="lb" transform="translate(356.7 360.1) rotate(-90)" text-anchor="middle" textLength="33.4" lengthAdjust="spacingAndGlyphs">Events</text>
<text class="ti bi" x="391.3" y="269.9" textLength="56.4" lengthAdjust="spacingAndGlyphs">Doublet,</text>
<text class="ti" x="453.2" y="269.9" textLength="45.5" lengthAdjust="spacingAndGlyphs">3000 fb</text>
<text class="sup2" x="500" y="265" textLength="5.3" lengthAdjust="spacingAndGlyphs">−</text>
<text class="sup2" x="506.5" y="265" textLength="3.6" lengthAdjust="spacingAndGlyphs">1</text>
<rect x="505.8" y="262.5" width="165.2" height="55.6" rx="2" ry="2" fill="#fff" fill-opacity="0.8" stroke="#d6d6d6" stroke-width="0.9"/>
<path d="M508.9 269.8h17.9" stroke="#0000ff" stroke-width="1.15" stroke-dasharray="4 1.8"/>
<text class="lg it" x="533.7" y="272.7" textLength="8.5" lengthAdjust="spacingAndGlyphs">M</text>
<text class="lsub" x="542.4" y="274.2" textLength="3.5" lengthAdjust="spacingAndGlyphs">F</text>
<text class="lg" x="547.45" y="272.7" textLength="7" lengthAdjust="spacingAndGlyphs">=</text>
<text class="lg" x="556.25" y="272.7" textLength="17.2" lengthAdjust="spacingAndGlyphs">850</text>
<text class="lg" x="575.65" y="272.7" textLength="21.9" lengthAdjust="spacingAndGlyphs">GeV,</text>
<text class="lg it" x="599.9" y="272.7" textLength="8.3" lengthAdjust="spacingAndGlyphs">M</text>
<text class="lsub" x="608.1" y="274.2" textLength="4.4" lengthAdjust="spacingAndGlyphs">S</text>
<text class="lg" x="614.35" y="272.7" textLength="7" lengthAdjust="spacingAndGlyphs">=</text>
<text class="lg" x="623.25" y="272.7" textLength="17.3" lengthAdjust="spacingAndGlyphs">500</text>
<text class="lg" x="642.45" y="272.7" textLength="18.9" lengthAdjust="spacingAndGlyphs">GeV</text>
<path d="M508.9 283.15h17.9" stroke="#ff0000" stroke-width="1.15" stroke-dasharray="4 1.8"/>
<text class="lg it" x="533.7" y="286.05" textLength="8.5" lengthAdjust="spacingAndGlyphs">M</text>
<text class="lsub" x="542.4" y="287.55" textLength="3.5" lengthAdjust="spacingAndGlyphs">F</text>
<text class="lg" x="547.45" y="286.05" textLength="7" lengthAdjust="spacingAndGlyphs">=</text>
<text class="lg" x="556.25" y="286.05" textLength="17.2" lengthAdjust="spacingAndGlyphs">800</text>
<text class="lg" x="575.65" y="286.05" textLength="21.9" lengthAdjust="spacingAndGlyphs">GeV,</text>
<text class="lg it" x="599.9" y="286.05" textLength="8.3" lengthAdjust="spacingAndGlyphs">M</text>
<text class="lsub" x="608.1" y="287.55" textLength="4.4" lengthAdjust="spacingAndGlyphs">S</text>
<text class="lg" x="614.35" y="286.05" textLength="7" lengthAdjust="spacingAndGlyphs">=</text>
<text class="lg" x="623.25" y="286.05" textLength="22.7" lengthAdjust="spacingAndGlyphs">1200</text>
<text class="lg" x="648.15" y="286.05" textLength="19.2" lengthAdjust="spacingAndGlyphs">GeV</text>
<path d="M508.9 296.5h17.9" stroke="#000000" stroke-width="1.15" stroke-dasharray="4 1.8"/>
<text class="lg it" x="533.7" y="299.4" textLength="8.5" lengthAdjust="spacingAndGlyphs">M</text>
<text class="lsub" x="542.4" y="300.9" textLength="3.5" lengthAdjust="spacingAndGlyphs">F</text>
<text class="lg" x="547.45" y="299.4" textLength="7" lengthAdjust="spacingAndGlyphs">=</text>
<text class="lg" x="556.55" y="299.4" textLength="21.7" lengthAdjust="spacingAndGlyphs">1000</text>
<text class="lg" x="581.15" y="299.4" textLength="21.6" lengthAdjust="spacingAndGlyphs">GeV,</text>
<text class="lg it" x="605.4" y="299.4" textLength="8.3" lengthAdjust="spacingAndGlyphs">M</text>
<text class="lsub" x="613.3" y="300.9" textLength="4.5" lengthAdjust="spacingAndGlyphs">S</text>
<text class="lg" x="619.85" y="299.4" textLength="6.8" lengthAdjust="spacingAndGlyphs">=</text>
<text class="lg" x="628.25" y="299.4" textLength="17.4" lengthAdjust="spacingAndGlyphs">800</text>
<text class="lg" x="648.15" y="299.4" textLength="19.2" lengthAdjust="spacingAndGlyphs">GeV</text>
<path d="M508.7 309.85h18.6" stroke="#008000" stroke-width="1.2"/>
<text class="lg" x="533.45" y="312.75" textLength="69.8" lengthAdjust="spacingAndGlyphs">SM background</text>
</g>
</svg>
</body></html>
